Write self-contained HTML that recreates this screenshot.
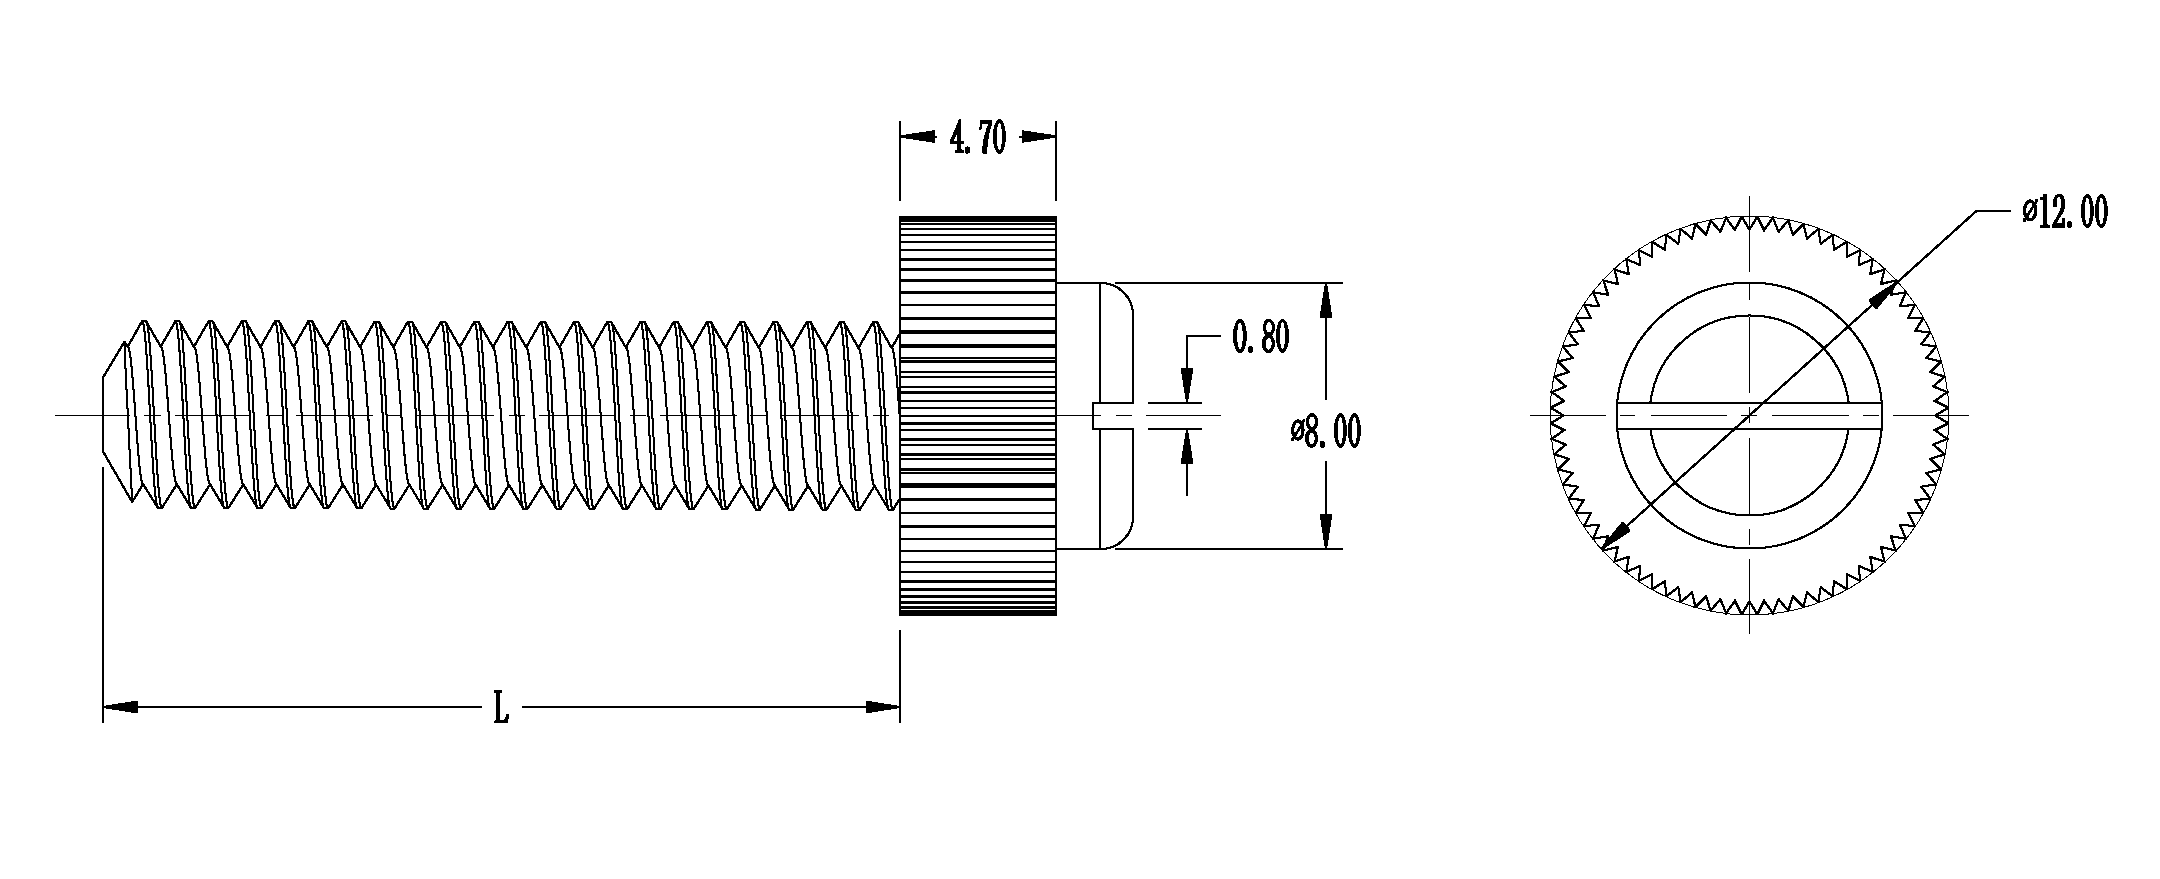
<!DOCTYPE html>
<html><head><meta charset="utf-8"><title>Knurled screw drawing</title>
<style>
html,body{margin:0;padding:0;background:#fff;font-family:"Liberation Sans",sans-serif;}
svg{display:block}
</style></head>
<body>
<svg width="2160" height="879" viewBox="0 0 2160 879" shape-rendering="crispEdges" fill="none" stroke="#000" stroke-linecap="butt" stroke-linejoin="miter">
<rect x="0" y="0" width="2160" height="879" fill="#fff" stroke="none"/>
<g stroke-width="1" transform="translate(-0.5,-0.5)">
<path d="M103,451.5 L103,377.6 L124.4,342 L127.7,346.65 L142.15,321.18 L146.05,321.18 L160.71,346.7 L175.38,321.23 L179.27,321.23 L193.94,346.76 L208.6,321.28 L212.5,321.28 L227.16,346.81 L241.83,321.33 L245.72,321.33 L260.39,346.87 L275.05,321.38 L278.95,321.38 L293.61,346.92 L308.28,321.43 L312.18,321.43 L326.84,346.98 L341.5,321.48 L345.4,321.48 L360.06,347.04 L374.73,321.53 L378.62,321.53 L393.29,347.09 L407.95,321.58 L411.85,321.58 L426.51,347.15 L441.18,321.63 L445.07,321.63 L459.74,347.2 L474.4,321.68 L478.3,321.68 L492.96,347.26 L507.63,321.73 L511.53,321.73 L526.19,347.31 L540.85,321.78 L544.75,321.78 L559.41,347.37 L574.07,321.83 L577.98,321.83 L592.64,347.42 L607.3,321.88 L611.2,321.88 L625.86,347.48 L640.52,321.93 L644.43,321.93 L659.09,347.54 L673.75,321.98 L677.65,321.98 L692.31,347.59 L706.98,322.03 L710.88,322.03 L725.54,347.65 L740.2,322.08 L744.1,322.08 L758.76,347.7 L773.42,322.13 L777.33,322.13 L791.99,347.76 L806.65,322.18 L810.55,322.18 L825.21,347.81 L839.88,322.23 L843.78,322.23 L858.44,347.87 L873.1,322.28 L877,322.28 L891.66,347.92 L900,333.37" />
<path d="M103,451.5 L132.2,502 L143.04,484.07 L158,507.91 L161.9,507.91 L176.86,484.15 L191.22,508 L195.12,508 L210.09,484.24 L224.45,508.09 L228.35,508.09 L243.31,484.32 L257.68,508.18 L261.57,508.18 L276.54,484.41 L290.9,508.27 L294.8,508.27 L309.76,484.5 L324.12,508.37 L328.02,508.37 L342.99,484.58 L357.35,508.46 L361.25,508.46 L376.21,484.67 L390.57,508.55 L394.47,508.55 L409.44,484.75 L423.8,508.64 L427.7,508.64 L442.66,484.84 L457.03,508.73 L460.93,508.73 L475.89,484.93 L490.25,508.82 L494.15,508.82 L509.11,485.01 L523.47,508.91 L527.38,508.91 L542.34,485.1 L556.7,509 L560.6,509 L575.56,485.18 L589.92,509.09 L593.83,509.09 L608.79,485.27 L623.15,509.18 L627.05,509.18 L642.01,485.35 L656.38,509.28 L660.28,509.28 L675.24,485.44 L689.6,509.37 L693.5,509.37 L708.46,485.53 L722.83,509.46 L726.73,509.46 L741.69,485.61 L756.05,509.55 L759.95,509.55 L774.91,485.7 L789.27,509.64 L793.17,509.64 L808.14,485.78 L822.5,509.73 L826.4,509.73 L841.36,485.87 L855.72,509.82 L859.62,509.82 L874.59,485.95 L888.95,509.91 L892.85,509.91 L900,498.51" />
<path d="M142.15,321.18 L142.94,322.33 L143.74,325.75 L144.53,331.35 L145.32,339.01 L146.11,348.52 L146.91,359.66 L147.7,372.15 L148.49,385.69 L149.28,399.93 L150.07,414.54 L150.87,429.14 L151.66,443.39 L152.45,456.92 L153.25,469.41 L154.04,480.55 L154.83,490.07 L155.62,497.72 L156.41,503.33 L157.21,506.75 L158,507.9" />
<path d="M146.05,321.18 L146.84,322.33 L147.63,325.75 L148.43,331.36 L149.22,339.02 L150.01,348.53 L150.8,359.67 L151.6,372.16 L152.39,385.69 L153.18,399.94 L153.97,414.54 L154.77,429.15 L155.56,443.39 L156.35,456.93 L157.14,469.42 L157.94,480.56 L158.73,490.08 L159.52,497.73 L160.31,503.34 L161.11,506.76 L161.9,507.92" />
<path d="M160.71,346.7 L161.52,347.45 L162.33,349.86 L163.14,353.87 L163.94,359.39 L164.75,366.28 L165.56,374.38 L166.37,383.49 L167.17,393.39 L167.98,403.84 L168.79,414.58 L169.59,425.34 L170.4,435.86 L171.21,445.89 L172.02,455.17 L172.83,463.47 L173.63,470.59 L174.44,476.34 L175.25,480.58 L176.06,483.21 L176.86,484.15" />
<path d="M175.38,321.23 L176.17,322.38 L176.96,325.8 L177.75,331.41 L178.54,339.06 L179.34,348.58 L180.13,359.72 L180.92,372.21 L181.72,385.75 L182.51,400 L183.3,414.61 L184.09,429.21 L184.88,443.46 L185.68,457 L186.47,469.49 L187.26,480.64 L188.06,490.15 L188.85,497.81 L189.64,503.42 L190.43,506.84 L191.22,508" />
<path d="M179.27,321.23 L180.07,322.38 L180.86,325.81 L181.65,331.41 L182.44,339.07 L183.24,348.59 L184.03,359.73 L184.82,372.22 L185.61,385.76 L186.41,400.01 L187.2,414.61 L187.99,429.22 L188.78,443.47 L189.58,457.01 L190.37,469.5 L191.16,480.65 L191.95,490.16 L192.75,497.82 L193.54,503.43 L194.33,506.85 L195.12,508.01" />
<path d="M193.94,346.76 L194.75,347.51 L195.55,349.92 L196.36,353.93 L197.17,359.45 L197.97,366.34 L198.78,374.44 L199.59,383.56 L200.4,393.46 L201.21,403.91 L202.01,414.65 L202.82,425.41 L203.63,435.94 L204.44,445.97 L205.24,455.25 L206.05,463.55 L206.86,470.67 L207.66,476.42 L208.47,480.67 L209.28,483.3 L210.09,484.24" />
<path d="M208.6,321.28 L209.39,322.43 L210.19,325.85 L210.98,331.46 L211.77,339.12 L212.56,348.64 L213.36,359.78 L214.15,372.28 L214.94,385.82 L215.73,400.07 L216.53,414.68 L217.32,429.29 L218.11,443.54 L218.9,457.08 L219.69,469.58 L220.49,480.72 L221.28,490.24 L222.07,497.9 L222.86,503.51 L223.66,506.93 L224.45,508.09" />
<path d="M212.5,321.28 L213.29,322.43 L214.09,325.86 L214.88,331.47 L215.67,339.12 L216.46,348.64 L217.25,359.79 L218.05,372.28 L218.84,385.82 L219.63,400.07 L220.42,414.69 L221.22,429.3 L222.01,443.55 L222.8,457.09 L223.59,469.59 L224.39,480.73 L225.18,490.25 L225.97,497.91 L226.76,503.52 L227.56,506.95 L228.35,508.1" />
<path d="M227.16,346.81 L227.97,347.57 L228.78,349.98 L229.59,353.99 L230.39,359.51 L231.2,366.4 L232.01,374.51 L232.82,383.62 L233.62,393.52 L234.43,403.98 L235.24,414.72 L236.05,425.48 L236.85,436.01 L237.66,446.04 L238.47,455.33 L239.28,463.63 L240.08,470.75 L240.89,476.51 L241.7,480.75 L242.5,483.38 L243.31,484.33" />
<path d="M241.83,321.33 L242.62,322.48 L243.41,325.9 L244.2,331.51 L245,339.17 L245.79,348.69 L246.58,359.84 L247.37,372.34 L248.17,385.88 L248.96,400.13 L249.75,414.75 L250.54,429.36 L251.34,443.62 L252.13,457.16 L252.92,469.66 L253.71,480.81 L254.51,490.33 L255.3,497.99 L256.09,503.6 L256.88,507.03 L257.68,508.18" />
<path d="M245.72,321.33 L246.52,322.48 L247.31,325.91 L248.1,331.52 L248.89,339.18 L249.69,348.7 L250.48,359.84 L251.27,372.34 L252.06,385.89 L252.86,400.14 L253.65,414.76 L254.44,429.37 L255.23,443.62 L256.03,457.17 L256.82,469.67 L257.61,480.82 L258.4,490.34 L259.2,498 L259.99,503.61 L260.78,507.04 L261.57,508.19" />
<path d="M260.39,346.87 L261.19,347.62 L262,350.03 L262.81,354.05 L263.62,359.57 L264.43,366.46 L265.23,374.57 L266.04,383.68 L266.85,393.59 L267.66,404.04 L268.46,414.79 L269.27,425.56 L270.08,436.09 L270.88,446.12 L271.69,455.41 L272.5,463.71 L273.31,470.83 L274.12,476.59 L274.92,480.84 L275.73,483.47 L276.54,484.41" />
<path d="M275.05,321.38 L275.84,322.53 L276.63,325.95 L277.43,331.56 L278.22,339.22 L279.01,348.75 L279.81,359.9 L280.6,372.4 L281.39,385.94 L282.18,400.2 L282.98,414.82 L283.77,429.44 L284.56,443.69 L285.35,457.24 L286.15,469.74 L286.94,480.89 L287.73,490.42 L288.52,498.08 L289.32,503.69 L290.11,507.12 L290.9,508.27" />
<path d="M278.95,321.38 L279.74,322.53 L280.53,325.96 L281.33,331.57 L282.12,339.23 L282.91,348.75 L283.7,359.9 L284.5,372.41 L285.29,385.95 L286.08,400.21 L286.88,414.83 L287.67,429.44 L288.46,443.7 L289.25,457.25 L290.05,469.75 L290.84,480.9 L291.63,490.43 L292.42,498.09 L293.22,503.7 L294.01,507.13 L294.8,508.28" />
<path d="M293.61,346.92 L294.42,347.68 L295.23,350.09 L296.04,354.1 L296.84,359.63 L297.65,366.52 L298.46,374.63 L299.27,383.75 L300.07,393.66 L300.88,404.11 L301.69,414.86 L302.5,425.63 L303.3,436.16 L304.11,446.2 L304.92,455.49 L305.73,463.8 L306.53,470.92 L307.34,476.68 L308.15,480.92 L308.96,483.55 L309.76,484.5" />
<path d="M308.28,321.43 L309.07,322.58 L309.86,326 L310.65,331.62 L311.45,339.28 L312.24,348.8 L313.03,359.95 L313.82,372.46 L314.62,386.01 L315.41,400.27 L316.2,414.89 L316.99,429.51 L317.79,443.77 L318.58,457.32 L319.37,469.82 L320.16,480.98 L320.95,490.5 L321.75,498.17 L322.54,503.78 L323.33,507.21 L324.12,508.36" />
<path d="M312.18,321.43 L312.97,322.58 L313.76,326.01 L314.55,331.62 L315.35,339.28 L316.14,348.81 L316.93,359.96 L317.72,372.47 L318.51,386.02 L319.31,400.28 L320.1,414.9 L320.89,429.52 L321.69,443.78 L322.48,457.33 L323.27,469.83 L324.06,480.99 L324.85,490.51 L325.65,498.18 L326.44,503.79 L327.23,507.22 L328.02,508.37" />
<path d="M326.84,346.98 L327.65,347.73 L328.45,350.15 L329.26,354.16 L330.07,359.68 L330.88,366.58 L331.68,374.69 L332.49,383.81 L333.3,393.72 L334.11,404.18 L334.91,414.93 L335.72,425.7 L336.53,436.24 L337.34,446.28 L338.14,455.57 L338.95,463.88 L339.76,471 L340.56,476.76 L341.37,481.01 L342.18,483.64 L342.99,484.58" />
<path d="M341.5,321.48 L342.29,322.63 L343.09,326.05 L343.88,331.67 L344.67,339.33 L345.46,348.86 L346.26,360.01 L347.05,372.52 L347.84,386.07 L348.63,400.34 L349.43,414.96 L350.22,429.58 L351.01,443.85 L351.8,457.4 L352.6,469.91 L353.39,481.06 L354.18,490.59 L354.97,498.26 L355.77,503.87 L356.56,507.3 L357.35,508.45" />
<path d="M345.4,321.48 L346.19,322.64 L346.99,326.06 L347.78,331.67 L348.57,339.34 L349.36,348.87 L350.16,360.02 L350.95,372.53 L351.74,386.08 L352.53,400.34 L353.33,414.97 L354.12,429.59 L354.91,443.86 L355.7,457.41 L356.5,469.92 L357.29,481.07 L358.08,490.6 L358.87,498.27 L359.67,503.88 L360.46,507.31 L361.25,508.46" />
<path d="M360.06,347.04 L360.87,347.79 L361.68,350.2 L362.49,354.22 L363.29,359.74 L364.1,366.64 L364.91,374.75 L365.72,383.88 L366.52,393.79 L367.33,404.25 L368.14,415 L368.95,425.78 L369.75,436.32 L370.56,446.35 L371.37,455.65 L372.18,463.96 L372.98,471.08 L373.79,476.84 L374.6,481.09 L375.41,483.73 L376.21,484.67" />
<path d="M374.73,321.53 L375.52,322.68 L376.31,326.11 L377.1,331.72 L377.9,339.39 L378.69,348.92 L379.48,360.07 L380.27,372.58 L381.06,386.14 L381.86,400.4 L382.65,415.03 L383.44,429.66 L384.24,443.92 L385.03,457.48 L385.82,469.99 L386.61,481.15 L387.4,490.68 L388.2,498.35 L388.99,503.96 L389.78,507.39 L390.57,508.54" />
<path d="M378.62,321.53 L379.42,322.69 L380.21,326.11 L381,331.73 L381.8,339.39 L382.59,348.92 L383.38,360.08 L384.17,372.59 L384.96,386.14 L385.76,400.41 L386.55,415.04 L387.34,429.67 L388.13,443.93 L388.93,457.49 L389.72,470 L390.51,481.16 L391.3,490.69 L392.1,498.36 L392.89,503.97 L393.68,507.4 L394.47,508.55" />
<path d="M393.29,347.09 L394.1,347.84 L394.9,350.26 L395.71,354.28 L396.52,359.8 L397.33,366.7 L398.13,374.81 L398.94,383.94 L399.75,393.85 L400.56,404.32 L401.36,415.07 L402.17,425.85 L402.98,436.39 L403.79,446.43 L404.59,455.73 L405.4,464.04 L406.21,471.17 L407.01,476.93 L407.82,481.18 L408.63,483.81 L409.44,484.75" />
<path d="M407.95,321.58 L408.74,322.73 L409.53,326.16 L410.33,331.77 L411.12,339.44 L411.91,348.97 L412.7,360.13 L413.5,372.64 L414.29,386.2 L415.08,400.47 L415.88,415.1 L416.67,429.73 L417.46,444 L418.25,457.56 L419.05,470.07 L419.84,481.23 L420.63,490.76 L421.42,498.43 L422.22,504.05 L423.01,507.48 L423.8,508.63" />
<path d="M411.85,321.58 L412.64,322.74 L413.43,326.16 L414.23,331.78 L415.02,339.45 L415.81,348.98 L416.6,360.14 L417.4,372.65 L418.19,386.21 L418.98,400.48 L419.77,415.11 L420.57,429.74 L421.36,444.01 L422.15,457.57 L422.94,470.08 L423.74,481.24 L424.53,490.77 L425.32,498.44 L426.12,504.06 L426.91,507.49 L427.7,508.64" />
<path d="M426.51,347.15 L427.32,347.9 L428.13,350.31 L428.94,354.33 L429.74,359.86 L430.55,366.76 L431.36,374.88 L432.17,384 L432.97,393.92 L433.78,404.38 L434.59,415.14 L435.39,425.92 L436.2,436.47 L437.01,446.51 L437.82,455.8 L438.62,464.12 L439.43,471.25 L440.24,477.01 L441.05,481.26 L441.86,483.9 L442.66,484.84" />
<path d="M441.18,321.63 L441.97,322.78 L442.76,326.21 L443.55,331.82 L444.35,339.49 L445.14,349.03 L445.93,360.19 L446.72,372.7 L447.52,386.26 L448.31,400.54 L449.1,415.17 L449.89,429.8 L450.69,444.08 L451.48,457.64 L452.27,470.15 L453.06,481.32 L453.86,490.85 L454.65,498.52 L455.44,504.14 L456.23,507.57 L457.03,508.72" />
<path d="M445.07,321.63 L445.87,322.79 L446.66,326.21 L447.45,331.83 L448.25,339.5 L449.04,349.03 L449.83,360.2 L450.62,372.71 L451.42,386.27 L452.21,400.55 L453,415.18 L453.79,429.81 L454.58,444.09 L455.38,457.65 L456.17,470.16 L456.96,481.33 L457.75,490.86 L458.55,498.53 L459.34,504.15 L460.13,507.58 L460.93,508.73" />
<path d="M459.74,347.2 L460.55,347.96 L461.35,350.37 L462.16,354.39 L462.97,359.92 L463.78,366.82 L464.58,374.94 L465.39,384.07 L466.2,393.99 L467.01,404.45 L467.81,415.21 L468.62,426 L469.43,436.54 L470.24,446.59 L471.04,455.88 L471.85,464.2 L472.66,471.33 L473.47,477.1 L474.27,481.35 L475.08,483.98 L475.89,484.93" />
<path d="M474.4,321.68 L475.19,322.83 L475.99,326.26 L476.78,331.88 L477.57,339.55 L478.36,349.08 L479.16,360.25 L479.95,372.77 L480.74,386.33 L481.53,400.6 L482.33,415.24 L483.12,429.88 L483.91,444.15 L484.7,457.72 L485.5,470.24 L486.29,481.4 L487.08,490.94 L487.87,498.61 L488.67,504.23 L489.46,507.66 L490.25,508.81" />
<path d="M478.3,321.68 L479.09,322.84 L479.88,326.26 L480.68,331.88 L481.47,339.55 L482.26,349.09 L483.06,360.25 L483.85,372.77 L484.64,386.34 L485.43,400.61 L486.23,415.25 L487.02,429.89 L487.81,444.16 L488.6,457.73 L489.39,470.25 L490.19,481.41 L490.98,490.95 L491.77,498.62 L492.56,504.24 L493.36,507.67 L494.15,508.83" />
<path d="M492.96,347.26 L493.77,348.01 L494.58,350.43 L495.39,354.45 L496.19,359.98 L497,366.88 L497.81,375 L498.62,384.13 L499.42,394.05 L500.23,404.52 L501.04,415.28 L501.85,426.07 L502.65,436.62 L503.46,446.66 L504.27,455.96 L505.08,464.28 L505.88,471.41 L506.69,477.18 L507.5,481.43 L508.31,484.07 L509.11,485.01" />
<path d="M507.63,321.73 L508.42,322.88 L509.21,326.31 L510,331.93 L510.8,339.6 L511.59,349.14 L512.38,360.31 L513.17,372.83 L513.97,386.39 L514.76,400.67 L515.55,415.31 L516.34,429.95 L517.13,444.23 L517.93,457.8 L518.72,470.32 L519.51,481.49 L520.3,491.03 L521.1,498.7 L521.89,504.32 L522.68,507.75 L523.47,508.91" />
<path d="M511.53,321.73 L512.32,322.89 L513.11,326.32 L513.9,331.94 L514.7,339.61 L515.49,349.15 L516.28,360.31 L517.07,372.83 L517.87,386.4 L518.66,400.68 L519.45,415.32 L520.24,429.96 L521.03,444.24 L521.83,457.81 L522.62,470.33 L523.41,481.5 L524.21,491.04 L525,498.71 L525.79,504.33 L526.58,507.76 L527.38,508.92" />
<path d="M526.19,347.31 L527,348.07 L527.8,350.48 L528.61,354.5 L529.42,360.03 L530.22,366.94 L531.03,375.06 L531.84,384.19 L532.65,394.12 L533.45,404.59 L534.26,415.35 L535.07,426.14 L535.88,436.69 L536.68,446.74 L537.49,456.04 L538.3,464.36 L539.11,471.5 L539.91,477.26 L540.72,481.52 L541.53,484.15 L542.34,485.1" />
<path d="M540.85,321.78 L541.64,322.93 L542.44,326.36 L543.23,331.98 L544.02,339.66 L544.81,349.2 L545.61,360.36 L546.4,372.89 L547.19,386.46 L547.98,400.74 L548.78,415.38 L549.57,430.03 L550.36,444.31 L551.15,457.88 L551.95,470.4 L552.74,481.57 L553.53,491.11 L554.32,498.79 L555.12,504.41 L555.91,507.84 L556.7,509" />
<path d="M544.75,321.78 L545.54,322.94 L546.34,326.37 L547.13,331.99 L547.92,339.66 L548.71,349.2 L549.51,360.37 L550.3,372.89 L551.09,386.46 L551.88,400.75 L552.68,415.39 L553.47,430.03 L554.26,444.32 L555.05,457.89 L555.85,470.41 L556.64,481.58 L557.43,491.12 L558.22,498.8 L559.02,504.42 L559.81,507.85 L560.6,509.01" />
<path d="M559.41,347.37 L560.22,348.12 L561.03,350.54 L561.84,354.56 L562.64,360.09 L563.45,367 L564.26,375.12 L565.07,384.26 L565.87,394.18 L566.68,404.66 L567.49,415.42 L568.29,426.21 L569.1,436.77 L569.91,446.82 L570.72,456.12 L571.52,464.45 L572.33,471.58 L573.14,477.35 L573.95,481.6 L574.75,484.24 L575.56,485.18" />
<path d="M574.07,321.83 L574.87,322.98 L575.66,326.41 L576.45,332.03 L577.24,339.71 L578.04,349.25 L578.83,360.42 L579.62,372.95 L580.41,386.52 L581.21,400.81 L582,415.45 L582.79,430.1 L583.58,444.38 L584.38,457.96 L585.17,470.49 L585.96,481.66 L586.75,491.2 L587.55,498.88 L588.34,504.5 L589.13,507.93 L589.92,509.09" />
<path d="M577.98,321.83 L578.77,322.99 L579.56,326.42 L580.35,332.04 L581.14,339.72 L581.94,349.26 L582.73,360.43 L583.52,372.96 L584.32,386.53 L585.11,400.81 L585.9,415.46 L586.69,430.11 L587.49,444.39 L588.28,457.97 L589.07,470.49 L589.86,481.67 L590.66,491.21 L591.45,498.89 L592.24,504.51 L593.03,507.94 L593.83,509.1" />
<path d="M592.64,347.42 L593.44,348.18 L594.25,350.6 L595.06,354.62 L595.87,360.15 L596.67,367.06 L597.48,375.18 L598.29,384.32 L599.1,394.25 L599.9,404.72 L600.71,415.49 L601.52,426.29 L602.33,436.84 L603.13,446.9 L603.94,456.2 L604.75,464.53 L605.56,471.66 L606.36,477.43 L607.17,481.69 L607.98,484.32 L608.79,485.27" />
<path d="M607.3,321.88 L608.09,323.03 L608.88,326.46 L609.68,332.09 L610.47,339.76 L611.26,349.31 L612.05,360.48 L612.85,373.01 L613.64,386.59 L614.43,400.87 L615.22,415.52 L616.02,430.17 L616.81,444.46 L617.6,458.04 L618.39,470.57 L619.19,481.74 L619.98,491.29 L620.77,498.97 L621.56,504.59 L622.36,508.02 L623.15,509.18" />
<path d="M611.2,321.88 L611.99,323.04 L612.79,326.47 L613.58,332.09 L614.37,339.77 L615.16,349.31 L615.96,360.49 L616.75,373.02 L617.54,386.59 L618.33,400.88 L619.12,415.53 L619.92,430.18 L620.71,444.47 L621.5,458.05 L622.3,470.58 L623.09,481.75 L623.88,491.3 L624.67,498.98 L625.47,504.6 L626.26,508.03 L627.05,509.19" />
<path d="M625.86,347.48 L626.67,348.24 L627.48,350.65 L628.28,354.68 L629.09,360.21 L629.9,367.12 L630.71,375.25 L631.51,384.38 L632.32,394.31 L633.13,404.79 L633.94,415.56 L634.74,426.36 L635.55,436.92 L636.36,446.97 L637.17,456.28 L637.97,464.61 L638.78,471.75 L639.59,477.52 L640.4,481.77 L641.2,484.41 L642.01,485.36" />
<path d="M640.52,321.93 L641.32,323.08 L642.11,326.51 L642.9,332.14 L643.69,339.82 L644.49,349.36 L645.28,360.54 L646.07,373.07 L646.87,386.65 L647.66,400.94 L648.45,415.59 L649.24,430.25 L650.03,444.54 L650.83,458.12 L651.62,470.65 L652.41,481.83 L653.21,491.37 L654,499.06 L654.79,504.68 L655.58,508.11 L656.38,509.27" />
<path d="M644.43,321.93 L645.22,323.09 L646.01,326.52 L646.8,332.14 L647.6,339.82 L648.39,349.37 L649.18,360.55 L649.97,373.08 L650.77,386.66 L651.56,400.95 L652.35,415.6 L653.14,430.25 L653.94,444.55 L654.73,458.13 L655.52,470.66 L656.31,481.84 L657.11,491.38 L657.9,499.07 L658.69,504.69 L659.48,508.13 L660.28,509.28" />
<path d="M659.09,347.54 L659.89,348.29 L660.7,350.71 L661.51,354.73 L662.32,360.27 L663.12,367.18 L663.93,375.31 L664.74,384.45 L665.55,394.38 L666.36,404.86 L667.16,415.63 L667.97,426.43 L668.78,436.99 L669.58,447.05 L670.39,456.36 L671.2,464.69 L672.01,471.83 L672.81,477.6 L673.62,481.86 L674.43,484.5 L675.24,485.44" />
<path d="M673.75,321.98 L674.54,323.13 L675.34,326.56 L676.13,332.19 L676.92,339.87 L677.71,349.42 L678.5,360.6 L679.3,373.13 L680.09,386.71 L680.88,401.01 L681.67,415.66 L682.47,430.32 L683.26,444.62 L684.05,458.2 L684.84,470.73 L685.64,481.91 L686.43,491.46 L687.22,499.14 L688.01,504.77 L688.81,508.21 L689.6,509.36" />
<path d="M677.65,321.98 L678.44,323.14 L679.24,326.57 L680.03,332.2 L680.82,339.88 L681.61,349.43 L682.41,360.6 L683.2,373.14 L683.99,386.72 L684.78,401.02 L685.58,415.67 L686.37,430.33 L687.16,444.62 L687.95,458.21 L688.75,470.74 L689.54,481.92 L690.33,491.47 L691.12,499.15 L691.91,504.78 L692.71,508.22 L693.5,509.37" />
<path d="M692.31,347.59 L693.12,348.35 L693.93,350.76 L694.74,354.79 L695.54,360.33 L696.35,367.24 L697.16,375.37 L697.96,384.51 L698.77,394.45 L699.58,404.93 L700.39,415.7 L701.19,426.51 L702,437.07 L702.81,447.13 L703.62,456.44 L704.42,464.77 L705.23,471.91 L706.04,477.68 L706.85,481.94 L707.65,484.58 L708.46,485.53" />
<path d="M706.98,322.03 L707.77,323.18 L708.56,326.62 L709.35,332.24 L710.14,339.93 L710.94,349.48 L711.73,360.66 L712.52,373.19 L713.32,386.78 L714.11,401.08 L714.9,415.73 L715.69,430.39 L716.49,444.69 L717.28,458.28 L718.07,470.82 L718.86,482 L719.66,491.55 L720.45,499.23 L721.24,504.86 L722.03,508.3 L722.83,509.45" />
<path d="M710.88,322.03 L711.67,323.19 L712.46,326.62 L713.25,332.25 L714.05,339.93 L714.84,349.48 L715.63,360.66 L716.42,373.2 L717.22,386.79 L718.01,401.08 L718.8,415.74 L719.59,430.4 L720.39,444.7 L721.18,458.29 L721.97,470.83 L722.76,482.01 L723.56,491.56 L724.35,499.24 L725.14,504.87 L725.93,508.31 L726.73,509.46" />
<path d="M725.54,347.65 L726.35,348.4 L727.15,350.82 L727.96,354.85 L728.77,360.38 L729.58,367.3 L730.38,375.43 L731.19,384.58 L732,394.51 L732.81,405 L733.61,415.77 L734.42,426.58 L735.23,437.14 L736.03,447.21 L736.84,456.52 L737.65,464.85 L738.46,471.99 L739.26,477.77 L740.07,482.03 L740.88,484.67 L741.69,485.61" />
<path d="M740.2,322.08 L740.99,323.23 L741.79,326.67 L742.58,332.29 L743.37,339.98 L744.16,349.53 L744.96,360.71 L745.75,373.25 L746.54,386.84 L747.33,401.14 L748.12,415.81 L748.92,430.47 L749.71,444.77 L750.5,458.36 L751.29,470.9 L752.09,482.08 L752.88,491.64 L753.67,499.32 L754.46,504.95 L755.26,508.39 L756.05,509.54" />
<path d="M744.1,322.08 L744.89,323.24 L745.69,326.67 L746.48,332.3 L747.27,339.99 L748.06,349.54 L748.86,360.72 L749.65,373.26 L750.44,386.85 L751.23,401.15 L752.03,415.81 L752.82,430.48 L753.61,444.78 L754.4,458.37 L755.2,470.91 L755.99,482.09 L756.78,491.65 L757.57,499.33 L758.37,504.96 L759.16,508.4 L759.95,509.55" />
<path d="M758.76,347.7 L759.57,348.46 L760.38,350.88 L761.19,354.9 L761.99,360.44 L762.8,367.36 L763.61,375.49 L764.41,384.64 L765.22,394.58 L766.03,405.07 L766.84,415.85 L767.64,426.65 L768.45,437.22 L769.26,447.28 L770.07,456.6 L770.88,464.93 L771.68,472.08 L772.49,477.85 L773.3,482.11 L774.1,484.75 L774.91,485.7" />
<path d="M773.42,322.13 L774.22,323.28 L775.01,326.72 L775.8,332.35 L776.59,340.03 L777.39,349.59 L778.18,360.77 L778.97,373.32 L779.76,386.91 L780.56,401.21 L781.35,415.88 L782.14,430.54 L782.93,444.85 L783.73,458.44 L784.52,470.98 L785.31,482.17 L786.1,491.72 L786.9,499.41 L787.69,505.04 L788.48,508.48 L789.27,509.63" />
<path d="M777.33,322.13 L778.12,323.29 L778.91,326.72 L779.7,332.35 L780.5,340.04 L781.29,349.59 L782.08,360.78 L782.87,373.32 L783.66,386.91 L784.46,401.22 L785.25,415.88 L786.04,430.55 L786.84,444.85 L787.63,458.45 L788.42,470.99 L789.21,482.18 L790,491.73 L790.8,499.42 L791.59,505.05 L792.38,508.49 L793.17,509.64" />
<path d="M791.99,347.76 L792.79,348.51 L793.6,350.93 L794.41,354.96 L795.22,360.5 L796.02,367.42 L796.83,375.56 L797.64,384.7 L798.45,394.64 L799.25,405.13 L800.06,415.92 L800.87,426.72 L801.68,437.29 L802.48,447.36 L803.29,456.68 L804.1,465.01 L804.91,472.16 L805.71,477.94 L806.52,482.2 L807.33,484.84 L808.14,485.78" />
<path d="M806.65,322.18 L807.44,323.33 L808.24,326.77 L809.03,332.4 L809.82,340.09 L810.61,349.64 L811.4,360.83 L812.2,373.38 L812.99,386.97 L813.78,401.28 L814.58,415.95 L815.37,430.61 L816.16,444.92 L816.95,458.52 L817.75,471.06 L818.54,482.25 L819.33,491.81 L820.12,499.5 L820.91,505.13 L821.71,508.57 L822.5,509.73" />
<path d="M810.55,322.18 L811.34,323.34 L812.14,326.77 L812.93,332.41 L813.72,340.09 L814.51,349.65 L815.31,360.84 L816.1,373.38 L816.89,386.98 L817.68,401.29 L818.48,415.95 L819.27,430.62 L820.06,444.93 L820.85,458.53 L821.65,471.07 L822.44,482.26 L823.23,491.82 L824.02,499.51 L824.82,505.14 L825.61,508.58 L826.4,509.74" />
<path d="M825.21,347.81 L826.02,348.57 L826.83,350.99 L827.63,355.02 L828.44,360.56 L829.25,367.48 L830.06,375.62 L830.87,384.77 L831.67,394.71 L832.48,405.2 L833.29,415.99 L834.09,426.8 L834.9,437.37 L835.71,447.44 L836.52,456.76 L837.32,465.1 L838.13,472.24 L838.94,478.02 L839.75,482.28 L840.55,484.92 L841.36,485.87" />
<path d="M839.88,322.23 L840.67,323.38 L841.46,326.82 L842.25,332.45 L843.04,340.14 L843.84,349.7 L844.63,360.89 L845.42,373.44 L846.21,387.03 L847.01,401.35 L847.8,416.02 L848.59,430.69 L849.38,445 L850.18,458.6 L850.97,471.15 L851.76,482.34 L852.55,491.9 L853.35,499.59 L854.14,505.22 L854.93,508.66 L855.72,509.82" />
<path d="M843.78,322.23 L844.57,323.39 L845.36,326.83 L846.15,332.46 L846.95,340.15 L847.74,349.71 L848.53,360.9 L849.32,373.45 L850.12,387.04 L850.91,401.35 L851.7,416.03 L852.49,430.7 L853.29,445.01 L854.08,458.61 L854.87,471.16 L855.66,482.35 L856.46,491.91 L857.25,499.6 L858.04,505.23 L858.83,508.67 L859.62,509.83" />
<path d="M858.44,347.87 L859.25,348.63 L860.05,351.05 L860.86,355.08 L861.67,360.62 L862.47,367.54 L863.28,375.68 L864.09,384.83 L864.9,394.78 L865.7,405.27 L866.51,416.06 L867.32,426.87 L868.13,437.44 L868.93,447.52 L869.74,456.84 L870.55,465.18 L871.36,472.33 L872.16,478.11 L872.97,482.37 L873.78,485.01 L874.59,485.96" />
<path d="M873.1,322.28 L873.89,323.43 L874.69,326.87 L875.48,332.5 L876.27,340.2 L877.06,349.76 L877.86,360.95 L878.65,373.5 L879.44,387.1 L880.23,401.41 L881.03,416.09 L881.82,430.76 L882.61,445.08 L883.4,458.68 L884.2,471.23 L884.99,482.42 L885.78,491.98 L886.57,499.68 L887.37,505.31 L888.16,508.75 L888.95,509.91" />
<path d="M877,322.28 L877.79,323.44 L878.59,326.88 L879.38,332.51 L880.17,340.2 L880.96,349.76 L881.76,360.96 L882.55,373.51 L883.34,387.11 L884.13,401.42 L884.93,416.1 L885.72,430.77 L886.51,445.09 L887.3,458.69 L888.1,471.24 L888.89,482.43 L889.68,491.99 L890.47,499.69 L891.27,505.32 L892.06,508.76 L892.85,509.92" />
<path d="M891.66,347.92 L892.47,348.68 L893.28,351.1 L894.09,355.13 L894.89,360.68 L895.7,367.6 L896.51,375.74 L897.32,384.89 L898.12,394.84 L898.93,405.34 L899.74,416.13 L900,419.64" />
<path d="M127.69,346.65 L128.45,347.4 L129.22,349.81 L129.99,353.82 L130.76,359.33 L131.52,366.22 L132.29,374.32 L133.06,383.43 L133.83,393.33 L134.59,403.77 L135.36,414.5 L136.13,425.27 L136.9,435.79 L137.66,445.81 L138.43,455.09 L139.2,463.39 L139.97,470.5 L140.73,476.25 L141.5,480.5 L142.27,483.12 L143.04,484.07" />
<path d="M124.4,342 L126,380 L127.9,415.5 L129.8,455 L132.2,502" />
<path d="M1057,283.0 L1101.0,283.0 A32.0,32.0 0 0 1 1133.0,315.0 L1133.0,403.0"/>
<path d="M1057,549.0 L1101.0,549.0 A32.0,32.0 0 0 0 1133.0,517.0 L1133.0,429.0"/>
<path d="M1100,283 L1100,403" />
<path d="M1100,429 L1100,549" />
<path d="M1133,403 L1093,403 L1093,429 L1133,429" />
<circle cx="1749.5" cy="415.5" r="133"/>
<path d="M1650.28,403 A100,100 0 0 1 1848.72,403"/>
<path d="M1650.42,429 A100,100 0 0 0 1848.58,429"/>
<path d="M1749.5,229.5 L1741.69,216.65 L1734.91,230.07 L1726.11,217.88 L1720.4,231.79 L1710.68,220.32 L1706.08,234.64 L1695.48,223.97 L1692.02,238.6 L1680.62,228.8 L1678.32,243.66 L1666.19,234.78 L1665.06,249.77 L1652.26,241.87 L1652.32,256.91 L1638.94,250.04 L1640.17,265.02 L1626.3,259.22 L1628.7,274.06 L1614.42,269.37 L1617.98,283.98 L1603.37,280.42 L1608.06,294.7 L1593.22,292.3 L1599.02,306.17 L1584.04,304.94 L1590.91,318.32 L1575.87,318.26 L1583.77,331.06 L1568.78,332.19 L1577.66,344.32 L1562.8,346.62 L1572.6,358.02 L1557.97,361.48 L1568.64,372.08 L1554.32,376.68 L1565.79,386.4 L1551.88,392.11 L1564.07,400.91 L1550.65,407.69 L1563.5,415.5 L1550.65,423.31 L1564.07,430.09 L1551.88,438.89 L1565.79,444.6 L1554.32,454.32 L1568.64,458.92 L1557.97,469.52 L1572.6,472.98 L1562.8,484.38 L1577.66,486.68 L1568.78,498.81 L1583.77,499.94 L1575.87,512.74 L1590.91,512.68 L1584.04,526.06 L1599.02,524.83 L1593.22,538.7 L1608.06,536.3 L1603.37,550.58 L1617.98,547.02 L1614.42,561.63 L1628.7,556.94 L1626.3,571.78 L1640.17,565.98 L1638.94,580.96 L1652.32,574.09 L1652.26,589.13 L1665.06,581.23 L1666.19,596.22 L1678.32,587.34 L1680.62,602.2 L1692.02,592.4 L1695.48,607.03 L1706.08,596.36 L1710.68,610.68 L1720.4,599.21 L1726.11,613.12 L1734.91,600.93 L1741.69,614.35 L1749.5,601.5 L1757.31,614.35 L1764.09,600.93 L1772.89,613.12 L1778.6,599.21 L1788.32,610.68 L1792.92,596.36 L1803.52,607.03 L1806.98,592.4 L1818.38,602.2 L1820.68,587.34 L1832.81,596.22 L1833.94,581.23 L1846.74,589.13 L1846.68,574.09 L1860.06,580.96 L1858.83,565.98 L1872.7,571.78 L1870.3,556.94 L1884.58,561.63 L1881.02,547.02 L1895.63,550.58 L1890.94,536.3 L1905.78,538.7 L1899.98,524.83 L1914.96,526.06 L1908.09,512.68 L1923.13,512.74 L1915.23,499.94 L1930.22,498.81 L1921.34,486.68 L1936.2,484.38 L1926.4,472.98 L1941.03,469.52 L1930.36,458.92 L1944.68,454.32 L1933.21,444.6 L1947.12,438.89 L1934.93,430.09 L1948.35,423.31 L1935.5,415.5 L1948.35,407.69 L1934.93,400.91 L1947.12,392.11 L1933.21,386.4 L1944.68,376.68 L1930.36,372.08 L1941.03,361.48 L1926.4,358.02 L1936.2,346.62 L1921.34,344.32 L1930.22,332.19 L1915.23,331.06 L1923.13,318.26 L1908.09,318.32 L1914.96,304.94 L1899.98,306.17 L1905.78,292.3 L1890.94,294.7 L1895.63,280.42 L1881.02,283.98 L1884.58,269.37 L1870.3,274.06 L1872.7,259.22 L1858.83,265.02 L1860.06,250.04 L1846.68,256.91 L1846.74,241.87 L1833.94,249.77 L1832.81,234.78 L1820.68,243.66 L1818.38,228.8 L1806.98,238.6 L1803.52,223.97 L1792.92,234.64 L1788.32,220.32 L1778.6,231.79 L1772.89,217.88 L1764.09,230.07 L1757.31,216.65 Z" stroke-linejoin="miter"/>
<path d="M1617.14,403 L1881.86,403" />
<path d="M1617.14,429 L1881.86,429" />
<path d="M900,121 L900,200" />
<path d="M1056,121 L1056,200" />
<path d="M900,136.5 L936,136.5" />
<path d="M1019.5,136.5 L1056,136.5" />
<path d="M900,136.5 L934,141.7 L934,131.3 Z" fill="#000"/>
<path d="M1056.5,136.5 L1022.5,131.3 L1022.5,141.7 Z" fill="#000"/>
<path d="M103,467 L103,722.4" />
<path d="M900,630 L900,722" />
<path d="M103,707 L481.6,707" />
<path d="M522,707 L900,707" />
<path d="M103,707 L136.5,712.2 L136.5,701.8 Z" fill="#000"/>
<path d="M900,707 L866.5,701.8 L866.5,712.2 Z" fill="#000"/>
<path d="M1115,283 L1342,283" />
<path d="M1115.5,549 L1342,549" />
<path d="M1326,283 L1326,399.6" />
<path d="M1326,461 L1326,549" />
<path d="M1326,283 L1320.8,316.5 L1331.2,316.5 Z" fill="#000"/>
<path d="M1326,549 L1331.2,515 L1320.8,515 Z" fill="#000"/>
<path d="M1148,403 L1201,403" />
<path d="M1148,429 L1201,429" />
<path d="M1220.5,336 L1187,336 L1187,402" />
<path d="M1187,402 L1192.2,368.5 L1181.8,368.5 Z" fill="#000"/>
<path d="M1187,430 L1187,495.5" />
<path d="M1187,430 L1181.8,462.5 L1192.2,462.5 Z" fill="#000"/>
<path d="M1601.31,549.06 L1976.4,211 L2010,211" />
<path d="M1897.69,281.94 L1869.33,300.5 L1876.29,308.23 Z" fill="#000"/>
<path d="M1601.31,549.06 L1629.67,530.5 L1622.71,522.77 Z" fill="#000"/>
</g>
<g stroke-width="1" transform="translate(0.5,-0.5)">
<path d="M103,451.5 L103,377.6 L124.4,342 L127.7,346.65 L142.15,321.18 L146.05,321.18 L160.71,346.7 L175.38,321.23 L179.27,321.23 L193.94,346.76 L208.6,321.28 L212.5,321.28 L227.16,346.81 L241.83,321.33 L245.72,321.33 L260.39,346.87 L275.05,321.38 L278.95,321.38 L293.61,346.92 L308.28,321.43 L312.18,321.43 L326.84,346.98 L341.5,321.48 L345.4,321.48 L360.06,347.04 L374.73,321.53 L378.62,321.53 L393.29,347.09 L407.95,321.58 L411.85,321.58 L426.51,347.15 L441.18,321.63 L445.07,321.63 L459.74,347.2 L474.4,321.68 L478.3,321.68 L492.96,347.26 L507.63,321.73 L511.53,321.73 L526.19,347.31 L540.85,321.78 L544.75,321.78 L559.41,347.37 L574.07,321.83 L577.98,321.83 L592.64,347.42 L607.3,321.88 L611.2,321.88 L625.86,347.48 L640.52,321.93 L644.43,321.93 L659.09,347.54 L673.75,321.98 L677.65,321.98 L692.31,347.59 L706.98,322.03 L710.88,322.03 L725.54,347.65 L740.2,322.08 L744.1,322.08 L758.76,347.7 L773.42,322.13 L777.33,322.13 L791.99,347.76 L806.65,322.18 L810.55,322.18 L825.21,347.81 L839.88,322.23 L843.78,322.23 L858.44,347.87 L873.1,322.28 L877,322.28 L891.66,347.92 L900,333.37" />
<path d="M103,451.5 L132.2,502 L143.04,484.07 L158,507.91 L161.9,507.91 L176.86,484.15 L191.22,508 L195.12,508 L210.09,484.24 L224.45,508.09 L228.35,508.09 L243.31,484.32 L257.68,508.18 L261.57,508.18 L276.54,484.41 L290.9,508.27 L294.8,508.27 L309.76,484.5 L324.12,508.37 L328.02,508.37 L342.99,484.58 L357.35,508.46 L361.25,508.46 L376.21,484.67 L390.57,508.55 L394.47,508.55 L409.44,484.75 L423.8,508.64 L427.7,508.64 L442.66,484.84 L457.03,508.73 L460.93,508.73 L475.89,484.93 L490.25,508.82 L494.15,508.82 L509.11,485.01 L523.47,508.91 L527.38,508.91 L542.34,485.1 L556.7,509 L560.6,509 L575.56,485.18 L589.92,509.09 L593.83,509.09 L608.79,485.27 L623.15,509.18 L627.05,509.18 L642.01,485.35 L656.38,509.28 L660.28,509.28 L675.24,485.44 L689.6,509.37 L693.5,509.37 L708.46,485.53 L722.83,509.46 L726.73,509.46 L741.69,485.61 L756.05,509.55 L759.95,509.55 L774.91,485.7 L789.27,509.64 L793.17,509.64 L808.14,485.78 L822.5,509.73 L826.4,509.73 L841.36,485.87 L855.72,509.82 L859.62,509.82 L874.59,485.95 L888.95,509.91 L892.85,509.91 L900,498.51" />
<path d="M142.15,321.18 L142.94,322.33 L143.74,325.75 L144.53,331.35 L145.32,339.01 L146.11,348.52 L146.91,359.66 L147.7,372.15 L148.49,385.69 L149.28,399.93 L150.07,414.54 L150.87,429.14 L151.66,443.39 L152.45,456.92 L153.25,469.41 L154.04,480.55 L154.83,490.07 L155.62,497.72 L156.41,503.33 L157.21,506.75 L158,507.9" />
<path d="M146.05,321.18 L146.84,322.33 L147.63,325.75 L148.43,331.36 L149.22,339.02 L150.01,348.53 L150.8,359.67 L151.6,372.16 L152.39,385.69 L153.18,399.94 L153.97,414.54 L154.77,429.15 L155.56,443.39 L156.35,456.93 L157.14,469.42 L157.94,480.56 L158.73,490.08 L159.52,497.73 L160.31,503.34 L161.11,506.76 L161.9,507.92" />
<path d="M160.71,346.7 L161.52,347.45 L162.33,349.86 L163.14,353.87 L163.94,359.39 L164.75,366.28 L165.56,374.38 L166.37,383.49 L167.17,393.39 L167.98,403.84 L168.79,414.58 L169.59,425.34 L170.4,435.86 L171.21,445.89 L172.02,455.17 L172.83,463.47 L173.63,470.59 L174.44,476.34 L175.25,480.58 L176.06,483.21 L176.86,484.15" />
<path d="M175.38,321.23 L176.17,322.38 L176.96,325.8 L177.75,331.41 L178.54,339.06 L179.34,348.58 L180.13,359.72 L180.92,372.21 L181.72,385.75 L182.51,400 L183.3,414.61 L184.09,429.21 L184.88,443.46 L185.68,457 L186.47,469.49 L187.26,480.64 L188.06,490.15 L188.85,497.81 L189.64,503.42 L190.43,506.84 L191.22,508" />
<path d="M179.27,321.23 L180.07,322.38 L180.86,325.81 L181.65,331.41 L182.44,339.07 L183.24,348.59 L184.03,359.73 L184.82,372.22 L185.61,385.76 L186.41,400.01 L187.2,414.61 L187.99,429.22 L188.78,443.47 L189.58,457.01 L190.37,469.5 L191.16,480.65 L191.95,490.16 L192.75,497.82 L193.54,503.43 L194.33,506.85 L195.12,508.01" />
<path d="M193.94,346.76 L194.75,347.51 L195.55,349.92 L196.36,353.93 L197.17,359.45 L197.97,366.34 L198.78,374.44 L199.59,383.56 L200.4,393.46 L201.21,403.91 L202.01,414.65 L202.82,425.41 L203.63,435.94 L204.44,445.97 L205.24,455.25 L206.05,463.55 L206.86,470.67 L207.66,476.42 L208.47,480.67 L209.28,483.3 L210.09,484.24" />
<path d="M208.6,321.28 L209.39,322.43 L210.19,325.85 L210.98,331.46 L211.77,339.12 L212.56,348.64 L213.36,359.78 L214.15,372.28 L214.94,385.82 L215.73,400.07 L216.53,414.68 L217.32,429.29 L218.11,443.54 L218.9,457.08 L219.69,469.58 L220.49,480.72 L221.28,490.24 L222.07,497.9 L222.86,503.51 L223.66,506.93 L224.45,508.09" />
<path d="M212.5,321.28 L213.29,322.43 L214.09,325.86 L214.88,331.47 L215.67,339.12 L216.46,348.64 L217.25,359.79 L218.05,372.28 L218.84,385.82 L219.63,400.07 L220.42,414.69 L221.22,429.3 L222.01,443.55 L222.8,457.09 L223.59,469.59 L224.39,480.73 L225.18,490.25 L225.97,497.91 L226.76,503.52 L227.56,506.95 L228.35,508.1" />
<path d="M227.16,346.81 L227.97,347.57 L228.78,349.98 L229.59,353.99 L230.39,359.51 L231.2,366.4 L232.01,374.51 L232.82,383.62 L233.62,393.52 L234.43,403.98 L235.24,414.72 L236.05,425.48 L236.85,436.01 L237.66,446.04 L238.47,455.33 L239.28,463.63 L240.08,470.75 L240.89,476.51 L241.7,480.75 L242.5,483.38 L243.31,484.33" />
<path d="M241.83,321.33 L242.62,322.48 L243.41,325.9 L244.2,331.51 L245,339.17 L245.79,348.69 L246.58,359.84 L247.37,372.34 L248.17,385.88 L248.96,400.13 L249.75,414.75 L250.54,429.36 L251.34,443.62 L252.13,457.16 L252.92,469.66 L253.71,480.81 L254.51,490.33 L255.3,497.99 L256.09,503.6 L256.88,507.03 L257.68,508.18" />
<path d="M245.72,321.33 L246.52,322.48 L247.31,325.91 L248.1,331.52 L248.89,339.18 L249.69,348.7 L250.48,359.84 L251.27,372.34 L252.06,385.89 L252.86,400.14 L253.65,414.76 L254.44,429.37 L255.23,443.62 L256.03,457.17 L256.82,469.67 L257.61,480.82 L258.4,490.34 L259.2,498 L259.99,503.61 L260.78,507.04 L261.57,508.19" />
<path d="M260.39,346.87 L261.19,347.62 L262,350.03 L262.81,354.05 L263.62,359.57 L264.43,366.46 L265.23,374.57 L266.04,383.68 L266.85,393.59 L267.66,404.04 L268.46,414.79 L269.27,425.56 L270.08,436.09 L270.88,446.12 L271.69,455.41 L272.5,463.71 L273.31,470.83 L274.12,476.59 L274.92,480.84 L275.73,483.47 L276.54,484.41" />
<path d="M275.05,321.38 L275.84,322.53 L276.63,325.95 L277.43,331.56 L278.22,339.22 L279.01,348.75 L279.81,359.9 L280.6,372.4 L281.39,385.94 L282.18,400.2 L282.98,414.82 L283.77,429.44 L284.56,443.69 L285.35,457.24 L286.15,469.74 L286.94,480.89 L287.73,490.42 L288.52,498.08 L289.32,503.69 L290.11,507.12 L290.9,508.27" />
<path d="M278.95,321.38 L279.74,322.53 L280.53,325.96 L281.33,331.57 L282.12,339.23 L282.91,348.75 L283.7,359.9 L284.5,372.41 L285.29,385.95 L286.08,400.21 L286.88,414.83 L287.67,429.44 L288.46,443.7 L289.25,457.25 L290.05,469.75 L290.84,480.9 L291.63,490.43 L292.42,498.09 L293.22,503.7 L294.01,507.13 L294.8,508.28" />
<path d="M293.61,346.92 L294.42,347.68 L295.23,350.09 L296.04,354.1 L296.84,359.63 L297.65,366.52 L298.46,374.63 L299.27,383.75 L300.07,393.66 L300.88,404.11 L301.69,414.86 L302.5,425.63 L303.3,436.16 L304.11,446.2 L304.92,455.49 L305.73,463.8 L306.53,470.92 L307.34,476.68 L308.15,480.92 L308.96,483.55 L309.76,484.5" />
<path d="M308.28,321.43 L309.07,322.58 L309.86,326 L310.65,331.62 L311.45,339.28 L312.24,348.8 L313.03,359.95 L313.82,372.46 L314.62,386.01 L315.41,400.27 L316.2,414.89 L316.99,429.51 L317.79,443.77 L318.58,457.32 L319.37,469.82 L320.16,480.98 L320.95,490.5 L321.75,498.17 L322.54,503.78 L323.33,507.21 L324.12,508.36" />
<path d="M312.18,321.43 L312.97,322.58 L313.76,326.01 L314.55,331.62 L315.35,339.28 L316.14,348.81 L316.93,359.96 L317.72,372.47 L318.51,386.02 L319.31,400.28 L320.1,414.9 L320.89,429.52 L321.69,443.78 L322.48,457.33 L323.27,469.83 L324.06,480.99 L324.85,490.51 L325.65,498.18 L326.44,503.79 L327.23,507.22 L328.02,508.37" />
<path d="M326.84,346.98 L327.65,347.73 L328.45,350.15 L329.26,354.16 L330.07,359.68 L330.88,366.58 L331.68,374.69 L332.49,383.81 L333.3,393.72 L334.11,404.18 L334.91,414.93 L335.72,425.7 L336.53,436.24 L337.34,446.28 L338.14,455.57 L338.95,463.88 L339.76,471 L340.56,476.76 L341.37,481.01 L342.18,483.64 L342.99,484.58" />
<path d="M341.5,321.48 L342.29,322.63 L343.09,326.05 L343.88,331.67 L344.67,339.33 L345.46,348.86 L346.26,360.01 L347.05,372.52 L347.84,386.07 L348.63,400.34 L349.43,414.96 L350.22,429.58 L351.01,443.85 L351.8,457.4 L352.6,469.91 L353.39,481.06 L354.18,490.59 L354.97,498.26 L355.77,503.87 L356.56,507.3 L357.35,508.45" />
<path d="M345.4,321.48 L346.19,322.64 L346.99,326.06 L347.78,331.67 L348.57,339.34 L349.36,348.87 L350.16,360.02 L350.95,372.53 L351.74,386.08 L352.53,400.34 L353.33,414.97 L354.12,429.59 L354.91,443.86 L355.7,457.41 L356.5,469.92 L357.29,481.07 L358.08,490.6 L358.87,498.27 L359.67,503.88 L360.46,507.31 L361.25,508.46" />
<path d="M360.06,347.04 L360.87,347.79 L361.68,350.2 L362.49,354.22 L363.29,359.74 L364.1,366.64 L364.91,374.75 L365.72,383.88 L366.52,393.79 L367.33,404.25 L368.14,415 L368.95,425.78 L369.75,436.32 L370.56,446.35 L371.37,455.65 L372.18,463.96 L372.98,471.08 L373.79,476.84 L374.6,481.09 L375.41,483.73 L376.21,484.67" />
<path d="M374.73,321.53 L375.52,322.68 L376.31,326.11 L377.1,331.72 L377.9,339.39 L378.69,348.92 L379.48,360.07 L380.27,372.58 L381.06,386.14 L381.86,400.4 L382.65,415.03 L383.44,429.66 L384.24,443.92 L385.03,457.48 L385.82,469.99 L386.61,481.15 L387.4,490.68 L388.2,498.35 L388.99,503.96 L389.78,507.39 L390.57,508.54" />
<path d="M378.62,321.53 L379.42,322.69 L380.21,326.11 L381,331.73 L381.8,339.39 L382.59,348.92 L383.38,360.08 L384.17,372.59 L384.96,386.14 L385.76,400.41 L386.55,415.04 L387.34,429.67 L388.13,443.93 L388.93,457.49 L389.72,470 L390.51,481.16 L391.3,490.69 L392.1,498.36 L392.89,503.97 L393.68,507.4 L394.47,508.55" />
<path d="M393.29,347.09 L394.1,347.84 L394.9,350.26 L395.71,354.28 L396.52,359.8 L397.33,366.7 L398.13,374.81 L398.94,383.94 L399.75,393.85 L400.56,404.32 L401.36,415.07 L402.17,425.85 L402.98,436.39 L403.79,446.43 L404.59,455.73 L405.4,464.04 L406.21,471.17 L407.01,476.93 L407.82,481.18 L408.63,483.81 L409.44,484.75" />
<path d="M407.95,321.58 L408.74,322.73 L409.53,326.16 L410.33,331.77 L411.12,339.44 L411.91,348.97 L412.7,360.13 L413.5,372.64 L414.29,386.2 L415.08,400.47 L415.88,415.1 L416.67,429.73 L417.46,444 L418.25,457.56 L419.05,470.07 L419.84,481.23 L420.63,490.76 L421.42,498.43 L422.22,504.05 L423.01,507.48 L423.8,508.63" />
<path d="M411.85,321.58 L412.64,322.74 L413.43,326.16 L414.23,331.78 L415.02,339.45 L415.81,348.98 L416.6,360.14 L417.4,372.65 L418.19,386.21 L418.98,400.48 L419.77,415.11 L420.57,429.74 L421.36,444.01 L422.15,457.57 L422.94,470.08 L423.74,481.24 L424.53,490.77 L425.32,498.44 L426.12,504.06 L426.91,507.49 L427.7,508.64" />
<path d="M426.51,347.15 L427.32,347.9 L428.13,350.31 L428.94,354.33 L429.74,359.86 L430.55,366.76 L431.36,374.88 L432.17,384 L432.97,393.92 L433.78,404.38 L434.59,415.14 L435.39,425.92 L436.2,436.47 L437.01,446.51 L437.82,455.8 L438.62,464.12 L439.43,471.25 L440.24,477.01 L441.05,481.26 L441.86,483.9 L442.66,484.84" />
<path d="M441.18,321.63 L441.97,322.78 L442.76,326.21 L443.55,331.82 L444.35,339.49 L445.14,349.03 L445.93,360.19 L446.72,372.7 L447.52,386.26 L448.31,400.54 L449.1,415.17 L449.89,429.8 L450.69,444.08 L451.48,457.64 L452.27,470.15 L453.06,481.32 L453.86,490.85 L454.65,498.52 L455.44,504.14 L456.23,507.57 L457.03,508.72" />
<path d="M445.07,321.63 L445.87,322.79 L446.66,326.21 L447.45,331.83 L448.25,339.5 L449.04,349.03 L449.83,360.2 L450.62,372.71 L451.42,386.27 L452.21,400.55 L453,415.18 L453.79,429.81 L454.58,444.09 L455.38,457.65 L456.17,470.16 L456.96,481.33 L457.75,490.86 L458.55,498.53 L459.34,504.15 L460.13,507.58 L460.93,508.73" />
<path d="M459.74,347.2 L460.55,347.96 L461.35,350.37 L462.16,354.39 L462.97,359.92 L463.78,366.82 L464.58,374.94 L465.39,384.07 L466.2,393.99 L467.01,404.45 L467.81,415.21 L468.62,426 L469.43,436.54 L470.24,446.59 L471.04,455.88 L471.85,464.2 L472.66,471.33 L473.47,477.1 L474.27,481.35 L475.08,483.98 L475.89,484.93" />
<path d="M474.4,321.68 L475.19,322.83 L475.99,326.26 L476.78,331.88 L477.57,339.55 L478.36,349.08 L479.16,360.25 L479.95,372.77 L480.74,386.33 L481.53,400.6 L482.33,415.24 L483.12,429.88 L483.91,444.15 L484.7,457.72 L485.5,470.24 L486.29,481.4 L487.08,490.94 L487.87,498.61 L488.67,504.23 L489.46,507.66 L490.25,508.81" />
<path d="M478.3,321.68 L479.09,322.84 L479.88,326.26 L480.68,331.88 L481.47,339.55 L482.26,349.09 L483.06,360.25 L483.85,372.77 L484.64,386.34 L485.43,400.61 L486.23,415.25 L487.02,429.89 L487.81,444.16 L488.6,457.73 L489.39,470.25 L490.19,481.41 L490.98,490.95 L491.77,498.62 L492.56,504.24 L493.36,507.67 L494.15,508.83" />
<path d="M492.96,347.26 L493.77,348.01 L494.58,350.43 L495.39,354.45 L496.19,359.98 L497,366.88 L497.81,375 L498.62,384.13 L499.42,394.05 L500.23,404.52 L501.04,415.28 L501.85,426.07 L502.65,436.62 L503.46,446.66 L504.27,455.96 L505.08,464.28 L505.88,471.41 L506.69,477.18 L507.5,481.43 L508.31,484.07 L509.11,485.01" />
<path d="M507.63,321.73 L508.42,322.88 L509.21,326.31 L510,331.93 L510.8,339.6 L511.59,349.14 L512.38,360.31 L513.17,372.83 L513.97,386.39 L514.76,400.67 L515.55,415.31 L516.34,429.95 L517.13,444.23 L517.93,457.8 L518.72,470.32 L519.51,481.49 L520.3,491.03 L521.1,498.7 L521.89,504.32 L522.68,507.75 L523.47,508.91" />
<path d="M511.53,321.73 L512.32,322.89 L513.11,326.32 L513.9,331.94 L514.7,339.61 L515.49,349.15 L516.28,360.31 L517.07,372.83 L517.87,386.4 L518.66,400.68 L519.45,415.32 L520.24,429.96 L521.03,444.24 L521.83,457.81 L522.62,470.33 L523.41,481.5 L524.21,491.04 L525,498.71 L525.79,504.33 L526.58,507.76 L527.38,508.92" />
<path d="M526.19,347.31 L527,348.07 L527.8,350.48 L528.61,354.5 L529.42,360.03 L530.22,366.94 L531.03,375.06 L531.84,384.19 L532.65,394.12 L533.45,404.59 L534.26,415.35 L535.07,426.14 L535.88,436.69 L536.68,446.74 L537.49,456.04 L538.3,464.36 L539.11,471.5 L539.91,477.26 L540.72,481.52 L541.53,484.15 L542.34,485.1" />
<path d="M540.85,321.78 L541.64,322.93 L542.44,326.36 L543.23,331.98 L544.02,339.66 L544.81,349.2 L545.61,360.36 L546.4,372.89 L547.19,386.46 L547.98,400.74 L548.78,415.38 L549.57,430.03 L550.36,444.31 L551.15,457.88 L551.95,470.4 L552.74,481.57 L553.53,491.11 L554.32,498.79 L555.12,504.41 L555.91,507.84 L556.7,509" />
<path d="M544.75,321.78 L545.54,322.94 L546.34,326.37 L547.13,331.99 L547.92,339.66 L548.71,349.2 L549.51,360.37 L550.3,372.89 L551.09,386.46 L551.88,400.75 L552.68,415.39 L553.47,430.03 L554.26,444.32 L555.05,457.89 L555.85,470.41 L556.64,481.58 L557.43,491.12 L558.22,498.8 L559.02,504.42 L559.81,507.85 L560.6,509.01" />
<path d="M559.41,347.37 L560.22,348.12 L561.03,350.54 L561.84,354.56 L562.64,360.09 L563.45,367 L564.26,375.12 L565.07,384.26 L565.87,394.18 L566.68,404.66 L567.49,415.42 L568.29,426.21 L569.1,436.77 L569.91,446.82 L570.72,456.12 L571.52,464.45 L572.33,471.58 L573.14,477.35 L573.95,481.6 L574.75,484.24 L575.56,485.18" />
<path d="M574.07,321.83 L574.87,322.98 L575.66,326.41 L576.45,332.03 L577.24,339.71 L578.04,349.25 L578.83,360.42 L579.62,372.95 L580.41,386.52 L581.21,400.81 L582,415.45 L582.79,430.1 L583.58,444.38 L584.38,457.96 L585.17,470.49 L585.96,481.66 L586.75,491.2 L587.55,498.88 L588.34,504.5 L589.13,507.93 L589.92,509.09" />
<path d="M577.98,321.83 L578.77,322.99 L579.56,326.42 L580.35,332.04 L581.14,339.72 L581.94,349.26 L582.73,360.43 L583.52,372.96 L584.32,386.53 L585.11,400.81 L585.9,415.46 L586.69,430.11 L587.49,444.39 L588.28,457.97 L589.07,470.49 L589.86,481.67 L590.66,491.21 L591.45,498.89 L592.24,504.51 L593.03,507.94 L593.83,509.1" />
<path d="M592.64,347.42 L593.44,348.18 L594.25,350.6 L595.06,354.62 L595.87,360.15 L596.67,367.06 L597.48,375.18 L598.29,384.32 L599.1,394.25 L599.9,404.72 L600.71,415.49 L601.52,426.29 L602.33,436.84 L603.13,446.9 L603.94,456.2 L604.75,464.53 L605.56,471.66 L606.36,477.43 L607.17,481.69 L607.98,484.32 L608.79,485.27" />
<path d="M607.3,321.88 L608.09,323.03 L608.88,326.46 L609.68,332.09 L610.47,339.76 L611.26,349.31 L612.05,360.48 L612.85,373.01 L613.64,386.59 L614.43,400.87 L615.22,415.52 L616.02,430.17 L616.81,444.46 L617.6,458.04 L618.39,470.57 L619.19,481.74 L619.98,491.29 L620.77,498.97 L621.56,504.59 L622.36,508.02 L623.15,509.18" />
<path d="M611.2,321.88 L611.99,323.04 L612.79,326.47 L613.58,332.09 L614.37,339.77 L615.16,349.31 L615.96,360.49 L616.75,373.02 L617.54,386.59 L618.33,400.88 L619.12,415.53 L619.92,430.18 L620.71,444.47 L621.5,458.05 L622.3,470.58 L623.09,481.75 L623.88,491.3 L624.67,498.98 L625.47,504.6 L626.26,508.03 L627.05,509.19" />
<path d="M625.86,347.48 L626.67,348.24 L627.48,350.65 L628.28,354.68 L629.09,360.21 L629.9,367.12 L630.71,375.25 L631.51,384.38 L632.32,394.31 L633.13,404.79 L633.94,415.56 L634.74,426.36 L635.55,436.92 L636.36,446.97 L637.17,456.28 L637.97,464.61 L638.78,471.75 L639.59,477.52 L640.4,481.77 L641.2,484.41 L642.01,485.36" />
<path d="M640.52,321.93 L641.32,323.08 L642.11,326.51 L642.9,332.14 L643.69,339.82 L644.49,349.36 L645.28,360.54 L646.07,373.07 L646.87,386.65 L647.66,400.94 L648.45,415.59 L649.24,430.25 L650.03,444.54 L650.83,458.12 L651.62,470.65 L652.41,481.83 L653.21,491.37 L654,499.06 L654.79,504.68 L655.58,508.11 L656.38,509.27" />
<path d="M644.43,321.93 L645.22,323.09 L646.01,326.52 L646.8,332.14 L647.6,339.82 L648.39,349.37 L649.18,360.55 L649.97,373.08 L650.77,386.66 L651.56,400.95 L652.35,415.6 L653.14,430.25 L653.94,444.55 L654.73,458.13 L655.52,470.66 L656.31,481.84 L657.11,491.38 L657.9,499.07 L658.69,504.69 L659.48,508.13 L660.28,509.28" />
<path d="M659.09,347.54 L659.89,348.29 L660.7,350.71 L661.51,354.73 L662.32,360.27 L663.12,367.18 L663.93,375.31 L664.74,384.45 L665.55,394.38 L666.36,404.86 L667.16,415.63 L667.97,426.43 L668.78,436.99 L669.58,447.05 L670.39,456.36 L671.2,464.69 L672.01,471.83 L672.81,477.6 L673.62,481.86 L674.43,484.5 L675.24,485.44" />
<path d="M673.75,321.98 L674.54,323.13 L675.34,326.56 L676.13,332.19 L676.92,339.87 L677.71,349.42 L678.5,360.6 L679.3,373.13 L680.09,386.71 L680.88,401.01 L681.67,415.66 L682.47,430.32 L683.26,444.62 L684.05,458.2 L684.84,470.73 L685.64,481.91 L686.43,491.46 L687.22,499.14 L688.01,504.77 L688.81,508.21 L689.6,509.36" />
<path d="M677.65,321.98 L678.44,323.14 L679.24,326.57 L680.03,332.2 L680.82,339.88 L681.61,349.43 L682.41,360.6 L683.2,373.14 L683.99,386.72 L684.78,401.02 L685.58,415.67 L686.37,430.33 L687.16,444.62 L687.95,458.21 L688.75,470.74 L689.54,481.92 L690.33,491.47 L691.12,499.15 L691.91,504.78 L692.71,508.22 L693.5,509.37" />
<path d="M692.31,347.59 L693.12,348.35 L693.93,350.76 L694.74,354.79 L695.54,360.33 L696.35,367.24 L697.16,375.37 L697.96,384.51 L698.77,394.45 L699.58,404.93 L700.39,415.7 L701.19,426.51 L702,437.07 L702.81,447.13 L703.62,456.44 L704.42,464.77 L705.23,471.91 L706.04,477.68 L706.85,481.94 L707.65,484.58 L708.46,485.53" />
<path d="M706.98,322.03 L707.77,323.18 L708.56,326.62 L709.35,332.24 L710.14,339.93 L710.94,349.48 L711.73,360.66 L712.52,373.19 L713.32,386.78 L714.11,401.08 L714.9,415.73 L715.69,430.39 L716.49,444.69 L717.28,458.28 L718.07,470.82 L718.86,482 L719.66,491.55 L720.45,499.23 L721.24,504.86 L722.03,508.3 L722.83,509.45" />
<path d="M710.88,322.03 L711.67,323.19 L712.46,326.62 L713.25,332.25 L714.05,339.93 L714.84,349.48 L715.63,360.66 L716.42,373.2 L717.22,386.79 L718.01,401.08 L718.8,415.74 L719.59,430.4 L720.39,444.7 L721.18,458.29 L721.97,470.83 L722.76,482.01 L723.56,491.56 L724.35,499.24 L725.14,504.87 L725.93,508.31 L726.73,509.46" />
<path d="M725.54,347.65 L726.35,348.4 L727.15,350.82 L727.96,354.85 L728.77,360.38 L729.58,367.3 L730.38,375.43 L731.19,384.58 L732,394.51 L732.81,405 L733.61,415.77 L734.42,426.58 L735.23,437.14 L736.03,447.21 L736.84,456.52 L737.65,464.85 L738.46,471.99 L739.26,477.77 L740.07,482.03 L740.88,484.67 L741.69,485.61" />
<path d="M740.2,322.08 L740.99,323.23 L741.79,326.67 L742.58,332.29 L743.37,339.98 L744.16,349.53 L744.96,360.71 L745.75,373.25 L746.54,386.84 L747.33,401.14 L748.12,415.81 L748.92,430.47 L749.71,444.77 L750.5,458.36 L751.29,470.9 L752.09,482.08 L752.88,491.64 L753.67,499.32 L754.46,504.95 L755.26,508.39 L756.05,509.54" />
<path d="M744.1,322.08 L744.89,323.24 L745.69,326.67 L746.48,332.3 L747.27,339.99 L748.06,349.54 L748.86,360.72 L749.65,373.26 L750.44,386.85 L751.23,401.15 L752.03,415.81 L752.82,430.48 L753.61,444.78 L754.4,458.37 L755.2,470.91 L755.99,482.09 L756.78,491.65 L757.57,499.33 L758.37,504.96 L759.16,508.4 L759.95,509.55" />
<path d="M758.76,347.7 L759.57,348.46 L760.38,350.88 L761.19,354.9 L761.99,360.44 L762.8,367.36 L763.61,375.49 L764.41,384.64 L765.22,394.58 L766.03,405.07 L766.84,415.85 L767.64,426.65 L768.45,437.22 L769.26,447.28 L770.07,456.6 L770.88,464.93 L771.68,472.08 L772.49,477.85 L773.3,482.11 L774.1,484.75 L774.91,485.7" />
<path d="M773.42,322.13 L774.22,323.28 L775.01,326.72 L775.8,332.35 L776.59,340.03 L777.39,349.59 L778.18,360.77 L778.97,373.32 L779.76,386.91 L780.56,401.21 L781.35,415.88 L782.14,430.54 L782.93,444.85 L783.73,458.44 L784.52,470.98 L785.31,482.17 L786.1,491.72 L786.9,499.41 L787.69,505.04 L788.48,508.48 L789.27,509.63" />
<path d="M777.33,322.13 L778.12,323.29 L778.91,326.72 L779.7,332.35 L780.5,340.04 L781.29,349.59 L782.08,360.78 L782.87,373.32 L783.66,386.91 L784.46,401.22 L785.25,415.88 L786.04,430.55 L786.84,444.85 L787.63,458.45 L788.42,470.99 L789.21,482.18 L790,491.73 L790.8,499.42 L791.59,505.05 L792.38,508.49 L793.17,509.64" />
<path d="M791.99,347.76 L792.79,348.51 L793.6,350.93 L794.41,354.96 L795.22,360.5 L796.02,367.42 L796.83,375.56 L797.64,384.7 L798.45,394.64 L799.25,405.13 L800.06,415.92 L800.87,426.72 L801.68,437.29 L802.48,447.36 L803.29,456.68 L804.1,465.01 L804.91,472.16 L805.71,477.94 L806.52,482.2 L807.33,484.84 L808.14,485.78" />
<path d="M806.65,322.18 L807.44,323.33 L808.24,326.77 L809.03,332.4 L809.82,340.09 L810.61,349.64 L811.4,360.83 L812.2,373.38 L812.99,386.97 L813.78,401.28 L814.58,415.95 L815.37,430.61 L816.16,444.92 L816.95,458.52 L817.75,471.06 L818.54,482.25 L819.33,491.81 L820.12,499.5 L820.91,505.13 L821.71,508.57 L822.5,509.73" />
<path d="M810.55,322.18 L811.34,323.34 L812.14,326.77 L812.93,332.41 L813.72,340.09 L814.51,349.65 L815.31,360.84 L816.1,373.38 L816.89,386.98 L817.68,401.29 L818.48,415.95 L819.27,430.62 L820.06,444.93 L820.85,458.53 L821.65,471.07 L822.44,482.26 L823.23,491.82 L824.02,499.51 L824.82,505.14 L825.61,508.58 L826.4,509.74" />
<path d="M825.21,347.81 L826.02,348.57 L826.83,350.99 L827.63,355.02 L828.44,360.56 L829.25,367.48 L830.06,375.62 L830.87,384.77 L831.67,394.71 L832.48,405.2 L833.29,415.99 L834.09,426.8 L834.9,437.37 L835.71,447.44 L836.52,456.76 L837.32,465.1 L838.13,472.24 L838.94,478.02 L839.75,482.28 L840.55,484.92 L841.36,485.87" />
<path d="M839.88,322.23 L840.67,323.38 L841.46,326.82 L842.25,332.45 L843.04,340.14 L843.84,349.7 L844.63,360.89 L845.42,373.44 L846.21,387.03 L847.01,401.35 L847.8,416.02 L848.59,430.69 L849.38,445 L850.18,458.6 L850.97,471.15 L851.76,482.34 L852.55,491.9 L853.35,499.59 L854.14,505.22 L854.93,508.66 L855.72,509.82" />
<path d="M843.78,322.23 L844.57,323.39 L845.36,326.83 L846.15,332.46 L846.95,340.15 L847.74,349.71 L848.53,360.9 L849.32,373.45 L850.12,387.04 L850.91,401.35 L851.7,416.03 L852.49,430.7 L853.29,445.01 L854.08,458.61 L854.87,471.16 L855.66,482.35 L856.46,491.91 L857.25,499.6 L858.04,505.23 L858.83,508.67 L859.62,509.83" />
<path d="M858.44,347.87 L859.25,348.63 L860.05,351.05 L860.86,355.08 L861.67,360.62 L862.47,367.54 L863.28,375.68 L864.09,384.83 L864.9,394.78 L865.7,405.27 L866.51,416.06 L867.32,426.87 L868.13,437.44 L868.93,447.52 L869.74,456.84 L870.55,465.18 L871.36,472.33 L872.16,478.11 L872.97,482.37 L873.78,485.01 L874.59,485.96" />
<path d="M873.1,322.28 L873.89,323.43 L874.69,326.87 L875.48,332.5 L876.27,340.2 L877.06,349.76 L877.86,360.95 L878.65,373.5 L879.44,387.1 L880.23,401.41 L881.03,416.09 L881.82,430.76 L882.61,445.08 L883.4,458.68 L884.2,471.23 L884.99,482.42 L885.78,491.98 L886.57,499.68 L887.37,505.31 L888.16,508.75 L888.95,509.91" />
<path d="M877,322.28 L877.79,323.44 L878.59,326.88 L879.38,332.51 L880.17,340.2 L880.96,349.76 L881.76,360.96 L882.55,373.51 L883.34,387.11 L884.13,401.42 L884.93,416.1 L885.72,430.77 L886.51,445.09 L887.3,458.69 L888.1,471.24 L888.89,482.43 L889.68,491.99 L890.47,499.69 L891.27,505.32 L892.06,508.76 L892.85,509.92" />
<path d="M891.66,347.92 L892.47,348.68 L893.28,351.1 L894.09,355.13 L894.89,360.68 L895.7,367.6 L896.51,375.74 L897.32,384.89 L898.12,394.84 L898.93,405.34 L899.74,416.13 L900,419.64" />
<path d="M127.69,346.65 L128.45,347.4 L129.22,349.81 L129.99,353.82 L130.76,359.33 L131.52,366.22 L132.29,374.32 L133.06,383.43 L133.83,393.33 L134.59,403.77 L135.36,414.5 L136.13,425.27 L136.9,435.79 L137.66,445.81 L138.43,455.09 L139.2,463.39 L139.97,470.5 L140.73,476.25 L141.5,480.5 L142.27,483.12 L143.04,484.07" />
<path d="M124.4,342 L126,380 L127.9,415.5 L129.8,455 L132.2,502" />
<path d="M1057,283.0 L1101.0,283.0 A32.0,32.0 0 0 1 1133.0,315.0 L1133.0,403.0"/>
<path d="M1057,549.0 L1101.0,549.0 A32.0,32.0 0 0 0 1133.0,517.0 L1133.0,429.0"/>
<path d="M1100,283 L1100,403" />
<path d="M1100,429 L1100,549" />
<path d="M1133,403 L1093,403 L1093,429 L1133,429" />
<circle cx="1749.5" cy="415.5" r="133"/>
<path d="M1650.28,403 A100,100 0 0 1 1848.72,403"/>
<path d="M1650.42,429 A100,100 0 0 0 1848.58,429"/>
<path d="M1749.5,229.5 L1741.69,216.65 L1734.91,230.07 L1726.11,217.88 L1720.4,231.79 L1710.68,220.32 L1706.08,234.64 L1695.48,223.97 L1692.02,238.6 L1680.62,228.8 L1678.32,243.66 L1666.19,234.78 L1665.06,249.77 L1652.26,241.87 L1652.32,256.91 L1638.94,250.04 L1640.17,265.02 L1626.3,259.22 L1628.7,274.06 L1614.42,269.37 L1617.98,283.98 L1603.37,280.42 L1608.06,294.7 L1593.22,292.3 L1599.02,306.17 L1584.04,304.94 L1590.91,318.32 L1575.87,318.26 L1583.77,331.06 L1568.78,332.19 L1577.66,344.32 L1562.8,346.62 L1572.6,358.02 L1557.97,361.48 L1568.64,372.08 L1554.32,376.68 L1565.79,386.4 L1551.88,392.11 L1564.07,400.91 L1550.65,407.69 L1563.5,415.5 L1550.65,423.31 L1564.07,430.09 L1551.88,438.89 L1565.79,444.6 L1554.32,454.32 L1568.64,458.92 L1557.97,469.52 L1572.6,472.98 L1562.8,484.38 L1577.66,486.68 L1568.78,498.81 L1583.77,499.94 L1575.87,512.74 L1590.91,512.68 L1584.04,526.06 L1599.02,524.83 L1593.22,538.7 L1608.06,536.3 L1603.37,550.58 L1617.98,547.02 L1614.42,561.63 L1628.7,556.94 L1626.3,571.78 L1640.17,565.98 L1638.94,580.96 L1652.32,574.09 L1652.26,589.13 L1665.06,581.23 L1666.19,596.22 L1678.32,587.34 L1680.62,602.2 L1692.02,592.4 L1695.48,607.03 L1706.08,596.36 L1710.68,610.68 L1720.4,599.21 L1726.11,613.12 L1734.91,600.93 L1741.69,614.35 L1749.5,601.5 L1757.31,614.35 L1764.09,600.93 L1772.89,613.12 L1778.6,599.21 L1788.32,610.68 L1792.92,596.36 L1803.52,607.03 L1806.98,592.4 L1818.38,602.2 L1820.68,587.34 L1832.81,596.22 L1833.94,581.23 L1846.74,589.13 L1846.68,574.09 L1860.06,580.96 L1858.83,565.98 L1872.7,571.78 L1870.3,556.94 L1884.58,561.63 L1881.02,547.02 L1895.63,550.58 L1890.94,536.3 L1905.78,538.7 L1899.98,524.83 L1914.96,526.06 L1908.09,512.68 L1923.13,512.74 L1915.23,499.94 L1930.22,498.81 L1921.34,486.68 L1936.2,484.38 L1926.4,472.98 L1941.03,469.52 L1930.36,458.92 L1944.68,454.32 L1933.21,444.6 L1947.12,438.89 L1934.93,430.09 L1948.35,423.31 L1935.5,415.5 L1948.35,407.69 L1934.93,400.91 L1947.12,392.11 L1933.21,386.4 L1944.68,376.68 L1930.36,372.08 L1941.03,361.48 L1926.4,358.02 L1936.2,346.62 L1921.34,344.32 L1930.22,332.19 L1915.23,331.06 L1923.13,318.26 L1908.09,318.32 L1914.96,304.94 L1899.98,306.17 L1905.78,292.3 L1890.94,294.7 L1895.63,280.42 L1881.02,283.98 L1884.58,269.37 L1870.3,274.06 L1872.7,259.22 L1858.83,265.02 L1860.06,250.04 L1846.68,256.91 L1846.74,241.87 L1833.94,249.77 L1832.81,234.78 L1820.68,243.66 L1818.38,228.8 L1806.98,238.6 L1803.52,223.97 L1792.92,234.64 L1788.32,220.32 L1778.6,231.79 L1772.89,217.88 L1764.09,230.07 L1757.31,216.65 Z" stroke-linejoin="miter"/>
<path d="M1617.14,403 L1881.86,403" />
<path d="M1617.14,429 L1881.86,429" />
<path d="M900,121 L900,200" />
<path d="M1056,121 L1056,200" />
<path d="M900,136.5 L936,136.5" />
<path d="M1019.5,136.5 L1056,136.5" />
<path d="M900,136.5 L934,141.7 L934,131.3 Z" fill="#000"/>
<path d="M1056.5,136.5 L1022.5,131.3 L1022.5,141.7 Z" fill="#000"/>
<path d="M103,467 L103,722.4" />
<path d="M900,630 L900,722" />
<path d="M103,707 L481.6,707" />
<path d="M522,707 L900,707" />
<path d="M103,707 L136.5,712.2 L136.5,701.8 Z" fill="#000"/>
<path d="M900,707 L866.5,701.8 L866.5,712.2 Z" fill="#000"/>
<path d="M1115,283 L1342,283" />
<path d="M1115.5,549 L1342,549" />
<path d="M1326,283 L1326,399.6" />
<path d="M1326,461 L1326,549" />
<path d="M1326,283 L1320.8,316.5 L1331.2,316.5 Z" fill="#000"/>
<path d="M1326,549 L1331.2,515 L1320.8,515 Z" fill="#000"/>
<path d="M1148,403 L1201,403" />
<path d="M1148,429 L1201,429" />
<path d="M1220.5,336 L1187,336 L1187,402" />
<path d="M1187,402 L1192.2,368.5 L1181.8,368.5 Z" fill="#000"/>
<path d="M1187,430 L1187,495.5" />
<path d="M1187,430 L1181.8,462.5 L1192.2,462.5 Z" fill="#000"/>
<path d="M1601.31,549.06 L1976.4,211 L2010,211" />
<path d="M1897.69,281.94 L1869.33,300.5 L1876.29,308.23 Z" fill="#000"/>
<path d="M1601.31,549.06 L1629.67,530.5 L1622.71,522.77 Z" fill="#000"/>
</g>
<g stroke-width="1" transform="translate(-0.5,0.5)">
<path d="M103,451.5 L103,377.6 L124.4,342 L127.7,346.65 L142.15,321.18 L146.05,321.18 L160.71,346.7 L175.38,321.23 L179.27,321.23 L193.94,346.76 L208.6,321.28 L212.5,321.28 L227.16,346.81 L241.83,321.33 L245.72,321.33 L260.39,346.87 L275.05,321.38 L278.95,321.38 L293.61,346.92 L308.28,321.43 L312.18,321.43 L326.84,346.98 L341.5,321.48 L345.4,321.48 L360.06,347.04 L374.73,321.53 L378.62,321.53 L393.29,347.09 L407.95,321.58 L411.85,321.58 L426.51,347.15 L441.18,321.63 L445.07,321.63 L459.74,347.2 L474.4,321.68 L478.3,321.68 L492.96,347.26 L507.63,321.73 L511.53,321.73 L526.19,347.31 L540.85,321.78 L544.75,321.78 L559.41,347.37 L574.07,321.83 L577.98,321.83 L592.64,347.42 L607.3,321.88 L611.2,321.88 L625.86,347.48 L640.52,321.93 L644.43,321.93 L659.09,347.54 L673.75,321.98 L677.65,321.98 L692.31,347.59 L706.98,322.03 L710.88,322.03 L725.54,347.65 L740.2,322.08 L744.1,322.08 L758.76,347.7 L773.42,322.13 L777.33,322.13 L791.99,347.76 L806.65,322.18 L810.55,322.18 L825.21,347.81 L839.88,322.23 L843.78,322.23 L858.44,347.87 L873.1,322.28 L877,322.28 L891.66,347.92 L900,333.37" />
<path d="M103,451.5 L132.2,502 L143.04,484.07 L158,507.91 L161.9,507.91 L176.86,484.15 L191.22,508 L195.12,508 L210.09,484.24 L224.45,508.09 L228.35,508.09 L243.31,484.32 L257.68,508.18 L261.57,508.18 L276.54,484.41 L290.9,508.27 L294.8,508.27 L309.76,484.5 L324.12,508.37 L328.02,508.37 L342.99,484.58 L357.35,508.46 L361.25,508.46 L376.21,484.67 L390.57,508.55 L394.47,508.55 L409.44,484.75 L423.8,508.64 L427.7,508.64 L442.66,484.84 L457.03,508.73 L460.93,508.73 L475.89,484.93 L490.25,508.82 L494.15,508.82 L509.11,485.01 L523.47,508.91 L527.38,508.91 L542.34,485.1 L556.7,509 L560.6,509 L575.56,485.18 L589.92,509.09 L593.83,509.09 L608.79,485.27 L623.15,509.18 L627.05,509.18 L642.01,485.35 L656.38,509.28 L660.28,509.28 L675.24,485.44 L689.6,509.37 L693.5,509.37 L708.46,485.53 L722.83,509.46 L726.73,509.46 L741.69,485.61 L756.05,509.55 L759.95,509.55 L774.91,485.7 L789.27,509.64 L793.17,509.64 L808.14,485.78 L822.5,509.73 L826.4,509.73 L841.36,485.87 L855.72,509.82 L859.62,509.82 L874.59,485.95 L888.95,509.91 L892.85,509.91 L900,498.51" />
<path d="M142.15,321.18 L142.94,322.33 L143.74,325.75 L144.53,331.35 L145.32,339.01 L146.11,348.52 L146.91,359.66 L147.7,372.15 L148.49,385.69 L149.28,399.93 L150.07,414.54 L150.87,429.14 L151.66,443.39 L152.45,456.92 L153.25,469.41 L154.04,480.55 L154.83,490.07 L155.62,497.72 L156.41,503.33 L157.21,506.75 L158,507.9" />
<path d="M146.05,321.18 L146.84,322.33 L147.63,325.75 L148.43,331.36 L149.22,339.02 L150.01,348.53 L150.8,359.67 L151.6,372.16 L152.39,385.69 L153.18,399.94 L153.97,414.54 L154.77,429.15 L155.56,443.39 L156.35,456.93 L157.14,469.42 L157.94,480.56 L158.73,490.08 L159.52,497.73 L160.31,503.34 L161.11,506.76 L161.9,507.92" />
<path d="M160.71,346.7 L161.52,347.45 L162.33,349.86 L163.14,353.87 L163.94,359.39 L164.75,366.28 L165.56,374.38 L166.37,383.49 L167.17,393.39 L167.98,403.84 L168.79,414.58 L169.59,425.34 L170.4,435.86 L171.21,445.89 L172.02,455.17 L172.83,463.47 L173.63,470.59 L174.44,476.34 L175.25,480.58 L176.06,483.21 L176.86,484.15" />
<path d="M175.38,321.23 L176.17,322.38 L176.96,325.8 L177.75,331.41 L178.54,339.06 L179.34,348.58 L180.13,359.72 L180.92,372.21 L181.72,385.75 L182.51,400 L183.3,414.61 L184.09,429.21 L184.88,443.46 L185.68,457 L186.47,469.49 L187.26,480.64 L188.06,490.15 L188.85,497.81 L189.64,503.42 L190.43,506.84 L191.22,508" />
<path d="M179.27,321.23 L180.07,322.38 L180.86,325.81 L181.65,331.41 L182.44,339.07 L183.24,348.59 L184.03,359.73 L184.82,372.22 L185.61,385.76 L186.41,400.01 L187.2,414.61 L187.99,429.22 L188.78,443.47 L189.58,457.01 L190.37,469.5 L191.16,480.65 L191.95,490.16 L192.75,497.82 L193.54,503.43 L194.33,506.85 L195.12,508.01" />
<path d="M193.94,346.76 L194.75,347.51 L195.55,349.92 L196.36,353.93 L197.17,359.45 L197.97,366.34 L198.78,374.44 L199.59,383.56 L200.4,393.46 L201.21,403.91 L202.01,414.65 L202.82,425.41 L203.63,435.94 L204.44,445.97 L205.24,455.25 L206.05,463.55 L206.86,470.67 L207.66,476.42 L208.47,480.67 L209.28,483.3 L210.09,484.24" />
<path d="M208.6,321.28 L209.39,322.43 L210.19,325.85 L210.98,331.46 L211.77,339.12 L212.56,348.64 L213.36,359.78 L214.15,372.28 L214.94,385.82 L215.73,400.07 L216.53,414.68 L217.32,429.29 L218.11,443.54 L218.9,457.08 L219.69,469.58 L220.49,480.72 L221.28,490.24 L222.07,497.9 L222.86,503.51 L223.66,506.93 L224.45,508.09" />
<path d="M212.5,321.28 L213.29,322.43 L214.09,325.86 L214.88,331.47 L215.67,339.12 L216.46,348.64 L217.25,359.79 L218.05,372.28 L218.84,385.82 L219.63,400.07 L220.42,414.69 L221.22,429.3 L222.01,443.55 L222.8,457.09 L223.59,469.59 L224.39,480.73 L225.18,490.25 L225.97,497.91 L226.76,503.52 L227.56,506.95 L228.35,508.1" />
<path d="M227.16,346.81 L227.97,347.57 L228.78,349.98 L229.59,353.99 L230.39,359.51 L231.2,366.4 L232.01,374.51 L232.82,383.62 L233.62,393.52 L234.43,403.98 L235.24,414.72 L236.05,425.48 L236.85,436.01 L237.66,446.04 L238.47,455.33 L239.28,463.63 L240.08,470.75 L240.89,476.51 L241.7,480.75 L242.5,483.38 L243.31,484.33" />
<path d="M241.83,321.33 L242.62,322.48 L243.41,325.9 L244.2,331.51 L245,339.17 L245.79,348.69 L246.58,359.84 L247.37,372.34 L248.17,385.88 L248.96,400.13 L249.75,414.75 L250.54,429.36 L251.34,443.62 L252.13,457.16 L252.92,469.66 L253.71,480.81 L254.51,490.33 L255.3,497.99 L256.09,503.6 L256.88,507.03 L257.68,508.18" />
<path d="M245.72,321.33 L246.52,322.48 L247.31,325.91 L248.1,331.52 L248.89,339.18 L249.69,348.7 L250.48,359.84 L251.27,372.34 L252.06,385.89 L252.86,400.14 L253.65,414.76 L254.44,429.37 L255.23,443.62 L256.03,457.17 L256.82,469.67 L257.61,480.82 L258.4,490.34 L259.2,498 L259.99,503.61 L260.78,507.04 L261.57,508.19" />
<path d="M260.39,346.87 L261.19,347.62 L262,350.03 L262.81,354.05 L263.62,359.57 L264.43,366.46 L265.23,374.57 L266.04,383.68 L266.85,393.59 L267.66,404.04 L268.46,414.79 L269.27,425.56 L270.08,436.09 L270.88,446.12 L271.69,455.41 L272.5,463.71 L273.31,470.83 L274.12,476.59 L274.92,480.84 L275.73,483.47 L276.54,484.41" />
<path d="M275.05,321.38 L275.84,322.53 L276.63,325.95 L277.43,331.56 L278.22,339.22 L279.01,348.75 L279.81,359.9 L280.6,372.4 L281.39,385.94 L282.18,400.2 L282.98,414.82 L283.77,429.44 L284.56,443.69 L285.35,457.24 L286.15,469.74 L286.94,480.89 L287.73,490.42 L288.52,498.08 L289.32,503.69 L290.11,507.12 L290.9,508.27" />
<path d="M278.95,321.38 L279.74,322.53 L280.53,325.96 L281.33,331.57 L282.12,339.23 L282.91,348.75 L283.7,359.9 L284.5,372.41 L285.29,385.95 L286.08,400.21 L286.88,414.83 L287.67,429.44 L288.46,443.7 L289.25,457.25 L290.05,469.75 L290.84,480.9 L291.63,490.43 L292.42,498.09 L293.22,503.7 L294.01,507.13 L294.8,508.28" />
<path d="M293.61,346.92 L294.42,347.68 L295.23,350.09 L296.04,354.1 L296.84,359.63 L297.65,366.52 L298.46,374.63 L299.27,383.75 L300.07,393.66 L300.88,404.11 L301.69,414.86 L302.5,425.63 L303.3,436.16 L304.11,446.2 L304.92,455.49 L305.73,463.8 L306.53,470.92 L307.34,476.68 L308.15,480.92 L308.96,483.55 L309.76,484.5" />
<path d="M308.28,321.43 L309.07,322.58 L309.86,326 L310.65,331.62 L311.45,339.28 L312.24,348.8 L313.03,359.95 L313.82,372.46 L314.62,386.01 L315.41,400.27 L316.2,414.89 L316.99,429.51 L317.79,443.77 L318.58,457.32 L319.37,469.82 L320.16,480.98 L320.95,490.5 L321.75,498.17 L322.54,503.78 L323.33,507.21 L324.12,508.36" />
<path d="M312.18,321.43 L312.97,322.58 L313.76,326.01 L314.55,331.62 L315.35,339.28 L316.14,348.81 L316.93,359.96 L317.72,372.47 L318.51,386.02 L319.31,400.28 L320.1,414.9 L320.89,429.52 L321.69,443.78 L322.48,457.33 L323.27,469.83 L324.06,480.99 L324.85,490.51 L325.65,498.18 L326.44,503.79 L327.23,507.22 L328.02,508.37" />
<path d="M326.84,346.98 L327.65,347.73 L328.45,350.15 L329.26,354.16 L330.07,359.68 L330.88,366.58 L331.68,374.69 L332.49,383.81 L333.3,393.72 L334.11,404.18 L334.91,414.93 L335.72,425.7 L336.53,436.24 L337.34,446.28 L338.14,455.57 L338.95,463.88 L339.76,471 L340.56,476.76 L341.37,481.01 L342.18,483.64 L342.99,484.58" />
<path d="M341.5,321.48 L342.29,322.63 L343.09,326.05 L343.88,331.67 L344.67,339.33 L345.46,348.86 L346.26,360.01 L347.05,372.52 L347.84,386.07 L348.63,400.34 L349.43,414.96 L350.22,429.58 L351.01,443.85 L351.8,457.4 L352.6,469.91 L353.39,481.06 L354.18,490.59 L354.97,498.26 L355.77,503.87 L356.56,507.3 L357.35,508.45" />
<path d="M345.4,321.48 L346.19,322.64 L346.99,326.06 L347.78,331.67 L348.57,339.34 L349.36,348.87 L350.16,360.02 L350.95,372.53 L351.74,386.08 L352.53,400.34 L353.33,414.97 L354.12,429.59 L354.91,443.86 L355.7,457.41 L356.5,469.92 L357.29,481.07 L358.08,490.6 L358.87,498.27 L359.67,503.88 L360.46,507.31 L361.25,508.46" />
<path d="M360.06,347.04 L360.87,347.79 L361.68,350.2 L362.49,354.22 L363.29,359.74 L364.1,366.64 L364.91,374.75 L365.72,383.88 L366.52,393.79 L367.33,404.25 L368.14,415 L368.95,425.78 L369.75,436.32 L370.56,446.35 L371.37,455.65 L372.18,463.96 L372.98,471.08 L373.79,476.84 L374.6,481.09 L375.41,483.73 L376.21,484.67" />
<path d="M374.73,321.53 L375.52,322.68 L376.31,326.11 L377.1,331.72 L377.9,339.39 L378.69,348.92 L379.48,360.07 L380.27,372.58 L381.06,386.14 L381.86,400.4 L382.65,415.03 L383.44,429.66 L384.24,443.92 L385.03,457.48 L385.82,469.99 L386.61,481.15 L387.4,490.68 L388.2,498.35 L388.99,503.96 L389.78,507.39 L390.57,508.54" />
<path d="M378.62,321.53 L379.42,322.69 L380.21,326.11 L381,331.73 L381.8,339.39 L382.59,348.92 L383.38,360.08 L384.17,372.59 L384.96,386.14 L385.76,400.41 L386.55,415.04 L387.34,429.67 L388.13,443.93 L388.93,457.49 L389.72,470 L390.51,481.16 L391.3,490.69 L392.1,498.36 L392.89,503.97 L393.68,507.4 L394.47,508.55" />
<path d="M393.29,347.09 L394.1,347.84 L394.9,350.26 L395.71,354.28 L396.52,359.8 L397.33,366.7 L398.13,374.81 L398.94,383.94 L399.75,393.85 L400.56,404.32 L401.36,415.07 L402.17,425.85 L402.98,436.39 L403.79,446.43 L404.59,455.73 L405.4,464.04 L406.21,471.17 L407.01,476.93 L407.82,481.18 L408.63,483.81 L409.44,484.75" />
<path d="M407.95,321.58 L408.74,322.73 L409.53,326.16 L410.33,331.77 L411.12,339.44 L411.91,348.97 L412.7,360.13 L413.5,372.64 L414.29,386.2 L415.08,400.47 L415.88,415.1 L416.67,429.73 L417.46,444 L418.25,457.56 L419.05,470.07 L419.84,481.23 L420.63,490.76 L421.42,498.43 L422.22,504.05 L423.01,507.48 L423.8,508.63" />
<path d="M411.85,321.58 L412.64,322.74 L413.43,326.16 L414.23,331.78 L415.02,339.45 L415.81,348.98 L416.6,360.14 L417.4,372.65 L418.19,386.21 L418.98,400.48 L419.77,415.11 L420.57,429.74 L421.36,444.01 L422.15,457.57 L422.94,470.08 L423.74,481.24 L424.53,490.77 L425.32,498.44 L426.12,504.06 L426.91,507.49 L427.7,508.64" />
<path d="M426.51,347.15 L427.32,347.9 L428.13,350.31 L428.94,354.33 L429.74,359.86 L430.55,366.76 L431.36,374.88 L432.17,384 L432.97,393.92 L433.78,404.38 L434.59,415.14 L435.39,425.92 L436.2,436.47 L437.01,446.51 L437.82,455.8 L438.62,464.12 L439.43,471.25 L440.24,477.01 L441.05,481.26 L441.86,483.9 L442.66,484.84" />
<path d="M441.18,321.63 L441.97,322.78 L442.76,326.21 L443.55,331.82 L444.35,339.49 L445.14,349.03 L445.93,360.19 L446.72,372.7 L447.52,386.26 L448.31,400.54 L449.1,415.17 L449.89,429.8 L450.69,444.08 L451.48,457.64 L452.27,470.15 L453.06,481.32 L453.86,490.85 L454.65,498.52 L455.44,504.14 L456.23,507.57 L457.03,508.72" />
<path d="M445.07,321.63 L445.87,322.79 L446.66,326.21 L447.45,331.83 L448.25,339.5 L449.04,349.03 L449.83,360.2 L450.62,372.71 L451.42,386.27 L452.21,400.55 L453,415.18 L453.79,429.81 L454.58,444.09 L455.38,457.65 L456.17,470.16 L456.96,481.33 L457.75,490.86 L458.55,498.53 L459.34,504.15 L460.13,507.58 L460.93,508.73" />
<path d="M459.74,347.2 L460.55,347.96 L461.35,350.37 L462.16,354.39 L462.97,359.92 L463.78,366.82 L464.58,374.94 L465.39,384.07 L466.2,393.99 L467.01,404.45 L467.81,415.21 L468.62,426 L469.43,436.54 L470.24,446.59 L471.04,455.88 L471.85,464.2 L472.66,471.33 L473.47,477.1 L474.27,481.35 L475.08,483.98 L475.89,484.93" />
<path d="M474.4,321.68 L475.19,322.83 L475.99,326.26 L476.78,331.88 L477.57,339.55 L478.36,349.08 L479.16,360.25 L479.95,372.77 L480.74,386.33 L481.53,400.6 L482.33,415.24 L483.12,429.88 L483.91,444.15 L484.7,457.72 L485.5,470.24 L486.29,481.4 L487.08,490.94 L487.87,498.61 L488.67,504.23 L489.46,507.66 L490.25,508.81" />
<path d="M478.3,321.68 L479.09,322.84 L479.88,326.26 L480.68,331.88 L481.47,339.55 L482.26,349.09 L483.06,360.25 L483.85,372.77 L484.64,386.34 L485.43,400.61 L486.23,415.25 L487.02,429.89 L487.81,444.16 L488.6,457.73 L489.39,470.25 L490.19,481.41 L490.98,490.95 L491.77,498.62 L492.56,504.24 L493.36,507.67 L494.15,508.83" />
<path d="M492.96,347.26 L493.77,348.01 L494.58,350.43 L495.39,354.45 L496.19,359.98 L497,366.88 L497.81,375 L498.62,384.13 L499.42,394.05 L500.23,404.52 L501.04,415.28 L501.85,426.07 L502.65,436.62 L503.46,446.66 L504.27,455.96 L505.08,464.28 L505.88,471.41 L506.69,477.18 L507.5,481.43 L508.31,484.07 L509.11,485.01" />
<path d="M507.63,321.73 L508.42,322.88 L509.21,326.31 L510,331.93 L510.8,339.6 L511.59,349.14 L512.38,360.31 L513.17,372.83 L513.97,386.39 L514.76,400.67 L515.55,415.31 L516.34,429.95 L517.13,444.23 L517.93,457.8 L518.72,470.32 L519.51,481.49 L520.3,491.03 L521.1,498.7 L521.89,504.32 L522.68,507.75 L523.47,508.91" />
<path d="M511.53,321.73 L512.32,322.89 L513.11,326.32 L513.9,331.94 L514.7,339.61 L515.49,349.15 L516.28,360.31 L517.07,372.83 L517.87,386.4 L518.66,400.68 L519.45,415.32 L520.24,429.96 L521.03,444.24 L521.83,457.81 L522.62,470.33 L523.41,481.5 L524.21,491.04 L525,498.71 L525.79,504.33 L526.58,507.76 L527.38,508.92" />
<path d="M526.19,347.31 L527,348.07 L527.8,350.48 L528.61,354.5 L529.42,360.03 L530.22,366.94 L531.03,375.06 L531.84,384.19 L532.65,394.12 L533.45,404.59 L534.26,415.35 L535.07,426.14 L535.88,436.69 L536.68,446.74 L537.49,456.04 L538.3,464.36 L539.11,471.5 L539.91,477.26 L540.72,481.52 L541.53,484.15 L542.34,485.1" />
<path d="M540.85,321.78 L541.64,322.93 L542.44,326.36 L543.23,331.98 L544.02,339.66 L544.81,349.2 L545.61,360.36 L546.4,372.89 L547.19,386.46 L547.98,400.74 L548.78,415.38 L549.57,430.03 L550.36,444.31 L551.15,457.88 L551.95,470.4 L552.74,481.57 L553.53,491.11 L554.32,498.79 L555.12,504.41 L555.91,507.84 L556.7,509" />
<path d="M544.75,321.78 L545.54,322.94 L546.34,326.37 L547.13,331.99 L547.92,339.66 L548.71,349.2 L549.51,360.37 L550.3,372.89 L551.09,386.46 L551.88,400.75 L552.68,415.39 L553.47,430.03 L554.26,444.32 L555.05,457.89 L555.85,470.41 L556.64,481.58 L557.43,491.12 L558.22,498.8 L559.02,504.42 L559.81,507.85 L560.6,509.01" />
<path d="M559.41,347.37 L560.22,348.12 L561.03,350.54 L561.84,354.56 L562.64,360.09 L563.45,367 L564.26,375.12 L565.07,384.26 L565.87,394.18 L566.68,404.66 L567.49,415.42 L568.29,426.21 L569.1,436.77 L569.91,446.82 L570.72,456.12 L571.52,464.45 L572.33,471.58 L573.14,477.35 L573.95,481.6 L574.75,484.24 L575.56,485.18" />
<path d="M574.07,321.83 L574.87,322.98 L575.66,326.41 L576.45,332.03 L577.24,339.71 L578.04,349.25 L578.83,360.42 L579.62,372.95 L580.41,386.52 L581.21,400.81 L582,415.45 L582.79,430.1 L583.58,444.38 L584.38,457.96 L585.17,470.49 L585.96,481.66 L586.75,491.2 L587.55,498.88 L588.34,504.5 L589.13,507.93 L589.92,509.09" />
<path d="M577.98,321.83 L578.77,322.99 L579.56,326.42 L580.35,332.04 L581.14,339.72 L581.94,349.26 L582.73,360.43 L583.52,372.96 L584.32,386.53 L585.11,400.81 L585.9,415.46 L586.69,430.11 L587.49,444.39 L588.28,457.97 L589.07,470.49 L589.86,481.67 L590.66,491.21 L591.45,498.89 L592.24,504.51 L593.03,507.94 L593.83,509.1" />
<path d="M592.64,347.42 L593.44,348.18 L594.25,350.6 L595.06,354.62 L595.87,360.15 L596.67,367.06 L597.48,375.18 L598.29,384.32 L599.1,394.25 L599.9,404.72 L600.71,415.49 L601.52,426.29 L602.33,436.84 L603.13,446.9 L603.94,456.2 L604.75,464.53 L605.56,471.66 L606.36,477.43 L607.17,481.69 L607.98,484.32 L608.79,485.27" />
<path d="M607.3,321.88 L608.09,323.03 L608.88,326.46 L609.68,332.09 L610.47,339.76 L611.26,349.31 L612.05,360.48 L612.85,373.01 L613.64,386.59 L614.43,400.87 L615.22,415.52 L616.02,430.17 L616.81,444.46 L617.6,458.04 L618.39,470.57 L619.19,481.74 L619.98,491.29 L620.77,498.97 L621.56,504.59 L622.36,508.02 L623.15,509.18" />
<path d="M611.2,321.88 L611.99,323.04 L612.79,326.47 L613.58,332.09 L614.37,339.77 L615.16,349.31 L615.96,360.49 L616.75,373.02 L617.54,386.59 L618.33,400.88 L619.12,415.53 L619.92,430.18 L620.71,444.47 L621.5,458.05 L622.3,470.58 L623.09,481.75 L623.88,491.3 L624.67,498.98 L625.47,504.6 L626.26,508.03 L627.05,509.19" />
<path d="M625.86,347.48 L626.67,348.24 L627.48,350.65 L628.28,354.68 L629.09,360.21 L629.9,367.12 L630.71,375.25 L631.51,384.38 L632.32,394.31 L633.13,404.79 L633.94,415.56 L634.74,426.36 L635.55,436.92 L636.36,446.97 L637.17,456.28 L637.97,464.61 L638.78,471.75 L639.59,477.52 L640.4,481.77 L641.2,484.41 L642.01,485.36" />
<path d="M640.52,321.93 L641.32,323.08 L642.11,326.51 L642.9,332.14 L643.69,339.82 L644.49,349.36 L645.28,360.54 L646.07,373.07 L646.87,386.65 L647.66,400.94 L648.45,415.59 L649.24,430.25 L650.03,444.54 L650.83,458.12 L651.62,470.65 L652.41,481.83 L653.21,491.37 L654,499.06 L654.79,504.68 L655.58,508.11 L656.38,509.27" />
<path d="M644.43,321.93 L645.22,323.09 L646.01,326.52 L646.8,332.14 L647.6,339.82 L648.39,349.37 L649.18,360.55 L649.97,373.08 L650.77,386.66 L651.56,400.95 L652.35,415.6 L653.14,430.25 L653.94,444.55 L654.73,458.13 L655.52,470.66 L656.31,481.84 L657.11,491.38 L657.9,499.07 L658.69,504.69 L659.48,508.13 L660.28,509.28" />
<path d="M659.09,347.54 L659.89,348.29 L660.7,350.71 L661.51,354.73 L662.32,360.27 L663.12,367.18 L663.93,375.31 L664.74,384.45 L665.55,394.38 L666.36,404.86 L667.16,415.63 L667.97,426.43 L668.78,436.99 L669.58,447.05 L670.39,456.36 L671.2,464.69 L672.01,471.83 L672.81,477.6 L673.62,481.86 L674.43,484.5 L675.24,485.44" />
<path d="M673.75,321.98 L674.54,323.13 L675.34,326.56 L676.13,332.19 L676.92,339.87 L677.71,349.42 L678.5,360.6 L679.3,373.13 L680.09,386.71 L680.88,401.01 L681.67,415.66 L682.47,430.32 L683.26,444.62 L684.05,458.2 L684.84,470.73 L685.64,481.91 L686.43,491.46 L687.22,499.14 L688.01,504.77 L688.81,508.21 L689.6,509.36" />
<path d="M677.65,321.98 L678.44,323.14 L679.24,326.57 L680.03,332.2 L680.82,339.88 L681.61,349.43 L682.41,360.6 L683.2,373.14 L683.99,386.72 L684.78,401.02 L685.58,415.67 L686.37,430.33 L687.16,444.62 L687.95,458.21 L688.75,470.74 L689.54,481.92 L690.33,491.47 L691.12,499.15 L691.91,504.78 L692.71,508.22 L693.5,509.37" />
<path d="M692.31,347.59 L693.12,348.35 L693.93,350.76 L694.74,354.79 L695.54,360.33 L696.35,367.24 L697.16,375.37 L697.96,384.51 L698.77,394.45 L699.58,404.93 L700.39,415.7 L701.19,426.51 L702,437.07 L702.81,447.13 L703.62,456.44 L704.42,464.77 L705.23,471.91 L706.04,477.68 L706.85,481.94 L707.65,484.58 L708.46,485.53" />
<path d="M706.98,322.03 L707.77,323.18 L708.56,326.62 L709.35,332.24 L710.14,339.93 L710.94,349.48 L711.73,360.66 L712.52,373.19 L713.32,386.78 L714.11,401.08 L714.9,415.73 L715.69,430.39 L716.49,444.69 L717.28,458.28 L718.07,470.82 L718.86,482 L719.66,491.55 L720.45,499.23 L721.24,504.86 L722.03,508.3 L722.83,509.45" />
<path d="M710.88,322.03 L711.67,323.19 L712.46,326.62 L713.25,332.25 L714.05,339.93 L714.84,349.48 L715.63,360.66 L716.42,373.2 L717.22,386.79 L718.01,401.08 L718.8,415.74 L719.59,430.4 L720.39,444.7 L721.18,458.29 L721.97,470.83 L722.76,482.01 L723.56,491.56 L724.35,499.24 L725.14,504.87 L725.93,508.31 L726.73,509.46" />
<path d="M725.54,347.65 L726.35,348.4 L727.15,350.82 L727.96,354.85 L728.77,360.38 L729.58,367.3 L730.38,375.43 L731.19,384.58 L732,394.51 L732.81,405 L733.61,415.77 L734.42,426.58 L735.23,437.14 L736.03,447.21 L736.84,456.52 L737.65,464.85 L738.46,471.99 L739.26,477.77 L740.07,482.03 L740.88,484.67 L741.69,485.61" />
<path d="M740.2,322.08 L740.99,323.23 L741.79,326.67 L742.58,332.29 L743.37,339.98 L744.16,349.53 L744.96,360.71 L745.75,373.25 L746.54,386.84 L747.33,401.14 L748.12,415.81 L748.92,430.47 L749.71,444.77 L750.5,458.36 L751.29,470.9 L752.09,482.08 L752.88,491.64 L753.67,499.32 L754.46,504.95 L755.26,508.39 L756.05,509.54" />
<path d="M744.1,322.08 L744.89,323.24 L745.69,326.67 L746.48,332.3 L747.27,339.99 L748.06,349.54 L748.86,360.72 L749.65,373.26 L750.44,386.85 L751.23,401.15 L752.03,415.81 L752.82,430.48 L753.61,444.78 L754.4,458.37 L755.2,470.91 L755.99,482.09 L756.78,491.65 L757.57,499.33 L758.37,504.96 L759.16,508.4 L759.95,509.55" />
<path d="M758.76,347.7 L759.57,348.46 L760.38,350.88 L761.19,354.9 L761.99,360.44 L762.8,367.36 L763.61,375.49 L764.41,384.64 L765.22,394.58 L766.03,405.07 L766.84,415.85 L767.64,426.65 L768.45,437.22 L769.26,447.28 L770.07,456.6 L770.88,464.93 L771.68,472.08 L772.49,477.85 L773.3,482.11 L774.1,484.75 L774.91,485.7" />
<path d="M773.42,322.13 L774.22,323.28 L775.01,326.72 L775.8,332.35 L776.59,340.03 L777.39,349.59 L778.18,360.77 L778.97,373.32 L779.76,386.91 L780.56,401.21 L781.35,415.88 L782.14,430.54 L782.93,444.85 L783.73,458.44 L784.52,470.98 L785.31,482.17 L786.1,491.72 L786.9,499.41 L787.69,505.04 L788.48,508.48 L789.27,509.63" />
<path d="M777.33,322.13 L778.12,323.29 L778.91,326.72 L779.7,332.35 L780.5,340.04 L781.29,349.59 L782.08,360.78 L782.87,373.32 L783.66,386.91 L784.46,401.22 L785.25,415.88 L786.04,430.55 L786.84,444.85 L787.63,458.45 L788.42,470.99 L789.21,482.18 L790,491.73 L790.8,499.42 L791.59,505.05 L792.38,508.49 L793.17,509.64" />
<path d="M791.99,347.76 L792.79,348.51 L793.6,350.93 L794.41,354.96 L795.22,360.5 L796.02,367.42 L796.83,375.56 L797.64,384.7 L798.45,394.64 L799.25,405.13 L800.06,415.92 L800.87,426.72 L801.68,437.29 L802.48,447.36 L803.29,456.68 L804.1,465.01 L804.91,472.16 L805.71,477.94 L806.52,482.2 L807.33,484.84 L808.14,485.78" />
<path d="M806.65,322.18 L807.44,323.33 L808.24,326.77 L809.03,332.4 L809.82,340.09 L810.61,349.64 L811.4,360.83 L812.2,373.38 L812.99,386.97 L813.78,401.28 L814.58,415.95 L815.37,430.61 L816.16,444.92 L816.95,458.52 L817.75,471.06 L818.54,482.25 L819.33,491.81 L820.12,499.5 L820.91,505.13 L821.71,508.57 L822.5,509.73" />
<path d="M810.55,322.18 L811.34,323.34 L812.14,326.77 L812.93,332.41 L813.72,340.09 L814.51,349.65 L815.31,360.84 L816.1,373.38 L816.89,386.98 L817.68,401.29 L818.48,415.95 L819.27,430.62 L820.06,444.93 L820.85,458.53 L821.65,471.07 L822.44,482.26 L823.23,491.82 L824.02,499.51 L824.82,505.14 L825.61,508.58 L826.4,509.74" />
<path d="M825.21,347.81 L826.02,348.57 L826.83,350.99 L827.63,355.02 L828.44,360.56 L829.25,367.48 L830.06,375.62 L830.87,384.77 L831.67,394.71 L832.48,405.2 L833.29,415.99 L834.09,426.8 L834.9,437.37 L835.71,447.44 L836.52,456.76 L837.32,465.1 L838.13,472.24 L838.94,478.02 L839.75,482.28 L840.55,484.92 L841.36,485.87" />
<path d="M839.88,322.23 L840.67,323.38 L841.46,326.82 L842.25,332.45 L843.04,340.14 L843.84,349.7 L844.63,360.89 L845.42,373.44 L846.21,387.03 L847.01,401.35 L847.8,416.02 L848.59,430.69 L849.38,445 L850.18,458.6 L850.97,471.15 L851.76,482.34 L852.55,491.9 L853.35,499.59 L854.14,505.22 L854.93,508.66 L855.72,509.82" />
<path d="M843.78,322.23 L844.57,323.39 L845.36,326.83 L846.15,332.46 L846.95,340.15 L847.74,349.71 L848.53,360.9 L849.32,373.45 L850.12,387.04 L850.91,401.35 L851.7,416.03 L852.49,430.7 L853.29,445.01 L854.08,458.61 L854.87,471.16 L855.66,482.35 L856.46,491.91 L857.25,499.6 L858.04,505.23 L858.83,508.67 L859.62,509.83" />
<path d="M858.44,347.87 L859.25,348.63 L860.05,351.05 L860.86,355.08 L861.67,360.62 L862.47,367.54 L863.28,375.68 L864.09,384.83 L864.9,394.78 L865.7,405.27 L866.51,416.06 L867.32,426.87 L868.13,437.44 L868.93,447.52 L869.74,456.84 L870.55,465.18 L871.36,472.33 L872.16,478.11 L872.97,482.37 L873.78,485.01 L874.59,485.96" />
<path d="M873.1,322.28 L873.89,323.43 L874.69,326.87 L875.48,332.5 L876.27,340.2 L877.06,349.76 L877.86,360.95 L878.65,373.5 L879.44,387.1 L880.23,401.41 L881.03,416.09 L881.82,430.76 L882.61,445.08 L883.4,458.68 L884.2,471.23 L884.99,482.42 L885.78,491.98 L886.57,499.68 L887.37,505.31 L888.16,508.75 L888.95,509.91" />
<path d="M877,322.28 L877.79,323.44 L878.59,326.88 L879.38,332.51 L880.17,340.2 L880.96,349.76 L881.76,360.96 L882.55,373.51 L883.34,387.11 L884.13,401.42 L884.93,416.1 L885.72,430.77 L886.51,445.09 L887.3,458.69 L888.1,471.24 L888.89,482.43 L889.68,491.99 L890.47,499.69 L891.27,505.32 L892.06,508.76 L892.85,509.92" />
<path d="M891.66,347.92 L892.47,348.68 L893.28,351.1 L894.09,355.13 L894.89,360.68 L895.7,367.6 L896.51,375.74 L897.32,384.89 L898.12,394.84 L898.93,405.34 L899.74,416.13 L900,419.64" />
<path d="M127.69,346.65 L128.45,347.4 L129.22,349.81 L129.99,353.82 L130.76,359.33 L131.52,366.22 L132.29,374.32 L133.06,383.43 L133.83,393.33 L134.59,403.77 L135.36,414.5 L136.13,425.27 L136.9,435.79 L137.66,445.81 L138.43,455.09 L139.2,463.39 L139.97,470.5 L140.73,476.25 L141.5,480.5 L142.27,483.12 L143.04,484.07" />
<path d="M124.4,342 L126,380 L127.9,415.5 L129.8,455 L132.2,502" />
<path d="M1057,283.0 L1101.0,283.0 A32.0,32.0 0 0 1 1133.0,315.0 L1133.0,403.0"/>
<path d="M1057,549.0 L1101.0,549.0 A32.0,32.0 0 0 0 1133.0,517.0 L1133.0,429.0"/>
<path d="M1100,283 L1100,403" />
<path d="M1100,429 L1100,549" />
<path d="M1133,403 L1093,403 L1093,429 L1133,429" />
<circle cx="1749.5" cy="415.5" r="133"/>
<path d="M1650.28,403 A100,100 0 0 1 1848.72,403"/>
<path d="M1650.42,429 A100,100 0 0 0 1848.58,429"/>
<path d="M1749.5,229.5 L1741.69,216.65 L1734.91,230.07 L1726.11,217.88 L1720.4,231.79 L1710.68,220.32 L1706.08,234.64 L1695.48,223.97 L1692.02,238.6 L1680.62,228.8 L1678.32,243.66 L1666.19,234.78 L1665.06,249.77 L1652.26,241.87 L1652.32,256.91 L1638.94,250.04 L1640.17,265.02 L1626.3,259.22 L1628.7,274.06 L1614.42,269.37 L1617.98,283.98 L1603.37,280.42 L1608.06,294.7 L1593.22,292.3 L1599.02,306.17 L1584.04,304.94 L1590.91,318.32 L1575.87,318.26 L1583.77,331.06 L1568.78,332.19 L1577.66,344.32 L1562.8,346.62 L1572.6,358.02 L1557.97,361.48 L1568.64,372.08 L1554.32,376.68 L1565.79,386.4 L1551.88,392.11 L1564.07,400.91 L1550.65,407.69 L1563.5,415.5 L1550.65,423.31 L1564.07,430.09 L1551.88,438.89 L1565.79,444.6 L1554.32,454.32 L1568.64,458.92 L1557.97,469.52 L1572.6,472.98 L1562.8,484.38 L1577.66,486.68 L1568.78,498.81 L1583.77,499.94 L1575.87,512.74 L1590.91,512.68 L1584.04,526.06 L1599.02,524.83 L1593.22,538.7 L1608.06,536.3 L1603.37,550.58 L1617.98,547.02 L1614.42,561.63 L1628.7,556.94 L1626.3,571.78 L1640.17,565.98 L1638.94,580.96 L1652.32,574.09 L1652.26,589.13 L1665.06,581.23 L1666.19,596.22 L1678.32,587.34 L1680.62,602.2 L1692.02,592.4 L1695.48,607.03 L1706.08,596.36 L1710.68,610.68 L1720.4,599.21 L1726.11,613.12 L1734.91,600.93 L1741.69,614.35 L1749.5,601.5 L1757.31,614.35 L1764.09,600.93 L1772.89,613.12 L1778.6,599.21 L1788.32,610.68 L1792.92,596.36 L1803.52,607.03 L1806.98,592.4 L1818.38,602.2 L1820.68,587.34 L1832.81,596.22 L1833.94,581.23 L1846.74,589.13 L1846.68,574.09 L1860.06,580.96 L1858.83,565.98 L1872.7,571.78 L1870.3,556.94 L1884.58,561.63 L1881.02,547.02 L1895.63,550.58 L1890.94,536.3 L1905.78,538.7 L1899.98,524.83 L1914.96,526.06 L1908.09,512.68 L1923.13,512.74 L1915.23,499.94 L1930.22,498.81 L1921.34,486.68 L1936.2,484.38 L1926.4,472.98 L1941.03,469.52 L1930.36,458.92 L1944.68,454.32 L1933.21,444.6 L1947.12,438.89 L1934.93,430.09 L1948.35,423.31 L1935.5,415.5 L1948.35,407.69 L1934.93,400.91 L1947.12,392.11 L1933.21,386.4 L1944.68,376.68 L1930.36,372.08 L1941.03,361.48 L1926.4,358.02 L1936.2,346.62 L1921.34,344.32 L1930.22,332.19 L1915.23,331.06 L1923.13,318.26 L1908.09,318.32 L1914.96,304.94 L1899.98,306.17 L1905.78,292.3 L1890.94,294.7 L1895.63,280.42 L1881.02,283.98 L1884.58,269.37 L1870.3,274.06 L1872.7,259.22 L1858.83,265.02 L1860.06,250.04 L1846.68,256.91 L1846.74,241.87 L1833.94,249.77 L1832.81,234.78 L1820.68,243.66 L1818.38,228.8 L1806.98,238.6 L1803.52,223.97 L1792.92,234.64 L1788.32,220.32 L1778.6,231.79 L1772.89,217.88 L1764.09,230.07 L1757.31,216.65 Z" stroke-linejoin="miter"/>
<path d="M1617.14,403 L1881.86,403" />
<path d="M1617.14,429 L1881.86,429" />
<path d="M900,121 L900,200" />
<path d="M1056,121 L1056,200" />
<path d="M900,136.5 L936,136.5" />
<path d="M1019.5,136.5 L1056,136.5" />
<path d="M900,136.5 L934,141.7 L934,131.3 Z" fill="#000"/>
<path d="M1056.5,136.5 L1022.5,131.3 L1022.5,141.7 Z" fill="#000"/>
<path d="M103,467 L103,722.4" />
<path d="M900,630 L900,722" />
<path d="M103,707 L481.6,707" />
<path d="M522,707 L900,707" />
<path d="M103,707 L136.5,712.2 L136.5,701.8 Z" fill="#000"/>
<path d="M900,707 L866.5,701.8 L866.5,712.2 Z" fill="#000"/>
<path d="M1115,283 L1342,283" />
<path d="M1115.5,549 L1342,549" />
<path d="M1326,283 L1326,399.6" />
<path d="M1326,461 L1326,549" />
<path d="M1326,283 L1320.8,316.5 L1331.2,316.5 Z" fill="#000"/>
<path d="M1326,549 L1331.2,515 L1320.8,515 Z" fill="#000"/>
<path d="M1148,403 L1201,403" />
<path d="M1148,429 L1201,429" />
<path d="M1220.5,336 L1187,336 L1187,402" />
<path d="M1187,402 L1192.2,368.5 L1181.8,368.5 Z" fill="#000"/>
<path d="M1187,430 L1187,495.5" />
<path d="M1187,430 L1181.8,462.5 L1192.2,462.5 Z" fill="#000"/>
<path d="M1601.31,549.06 L1976.4,211 L2010,211" />
<path d="M1897.69,281.94 L1869.33,300.5 L1876.29,308.23 Z" fill="#000"/>
<path d="M1601.31,549.06 L1629.67,530.5 L1622.71,522.77 Z" fill="#000"/>
</g>
<g stroke-width="1" transform="translate(0.5,0.5)">
<path d="M103,451.5 L103,377.6 L124.4,342 L127.7,346.65 L142.15,321.18 L146.05,321.18 L160.71,346.7 L175.38,321.23 L179.27,321.23 L193.94,346.76 L208.6,321.28 L212.5,321.28 L227.16,346.81 L241.83,321.33 L245.72,321.33 L260.39,346.87 L275.05,321.38 L278.95,321.38 L293.61,346.92 L308.28,321.43 L312.18,321.43 L326.84,346.98 L341.5,321.48 L345.4,321.48 L360.06,347.04 L374.73,321.53 L378.62,321.53 L393.29,347.09 L407.95,321.58 L411.85,321.58 L426.51,347.15 L441.18,321.63 L445.07,321.63 L459.74,347.2 L474.4,321.68 L478.3,321.68 L492.96,347.26 L507.63,321.73 L511.53,321.73 L526.19,347.31 L540.85,321.78 L544.75,321.78 L559.41,347.37 L574.07,321.83 L577.98,321.83 L592.64,347.42 L607.3,321.88 L611.2,321.88 L625.86,347.48 L640.52,321.93 L644.43,321.93 L659.09,347.54 L673.75,321.98 L677.65,321.98 L692.31,347.59 L706.98,322.03 L710.88,322.03 L725.54,347.65 L740.2,322.08 L744.1,322.08 L758.76,347.7 L773.42,322.13 L777.33,322.13 L791.99,347.76 L806.65,322.18 L810.55,322.18 L825.21,347.81 L839.88,322.23 L843.78,322.23 L858.44,347.87 L873.1,322.28 L877,322.28 L891.66,347.92 L900,333.37" />
<path d="M103,451.5 L132.2,502 L143.04,484.07 L158,507.91 L161.9,507.91 L176.86,484.15 L191.22,508 L195.12,508 L210.09,484.24 L224.45,508.09 L228.35,508.09 L243.31,484.32 L257.68,508.18 L261.57,508.18 L276.54,484.41 L290.9,508.27 L294.8,508.27 L309.76,484.5 L324.12,508.37 L328.02,508.37 L342.99,484.58 L357.35,508.46 L361.25,508.46 L376.21,484.67 L390.57,508.55 L394.47,508.55 L409.44,484.75 L423.8,508.64 L427.7,508.64 L442.66,484.84 L457.03,508.73 L460.93,508.73 L475.89,484.93 L490.25,508.82 L494.15,508.82 L509.11,485.01 L523.47,508.91 L527.38,508.91 L542.34,485.1 L556.7,509 L560.6,509 L575.56,485.18 L589.92,509.09 L593.83,509.09 L608.79,485.27 L623.15,509.18 L627.05,509.18 L642.01,485.35 L656.38,509.28 L660.28,509.28 L675.24,485.44 L689.6,509.37 L693.5,509.37 L708.46,485.53 L722.83,509.46 L726.73,509.46 L741.69,485.61 L756.05,509.55 L759.95,509.55 L774.91,485.7 L789.27,509.64 L793.17,509.64 L808.14,485.78 L822.5,509.73 L826.4,509.73 L841.36,485.87 L855.72,509.82 L859.62,509.82 L874.59,485.95 L888.95,509.91 L892.85,509.91 L900,498.51" />
<path d="M142.15,321.18 L142.94,322.33 L143.74,325.75 L144.53,331.35 L145.32,339.01 L146.11,348.52 L146.91,359.66 L147.7,372.15 L148.49,385.69 L149.28,399.93 L150.07,414.54 L150.87,429.14 L151.66,443.39 L152.45,456.92 L153.25,469.41 L154.04,480.55 L154.83,490.07 L155.62,497.72 L156.41,503.33 L157.21,506.75 L158,507.9" />
<path d="M146.05,321.18 L146.84,322.33 L147.63,325.75 L148.43,331.36 L149.22,339.02 L150.01,348.53 L150.8,359.67 L151.6,372.16 L152.39,385.69 L153.18,399.94 L153.97,414.54 L154.77,429.15 L155.56,443.39 L156.35,456.93 L157.14,469.42 L157.94,480.56 L158.73,490.08 L159.52,497.73 L160.31,503.34 L161.11,506.76 L161.9,507.92" />
<path d="M160.71,346.7 L161.52,347.45 L162.33,349.86 L163.14,353.87 L163.94,359.39 L164.75,366.28 L165.56,374.38 L166.37,383.49 L167.17,393.39 L167.98,403.84 L168.79,414.58 L169.59,425.34 L170.4,435.86 L171.21,445.89 L172.02,455.17 L172.83,463.47 L173.63,470.59 L174.44,476.34 L175.25,480.58 L176.06,483.21 L176.86,484.15" />
<path d="M175.38,321.23 L176.17,322.38 L176.96,325.8 L177.75,331.41 L178.54,339.06 L179.34,348.58 L180.13,359.72 L180.92,372.21 L181.72,385.75 L182.51,400 L183.3,414.61 L184.09,429.21 L184.88,443.46 L185.68,457 L186.47,469.49 L187.26,480.64 L188.06,490.15 L188.85,497.81 L189.64,503.42 L190.43,506.84 L191.22,508" />
<path d="M179.27,321.23 L180.07,322.38 L180.86,325.81 L181.65,331.41 L182.44,339.07 L183.24,348.59 L184.03,359.73 L184.82,372.22 L185.61,385.76 L186.41,400.01 L187.2,414.61 L187.99,429.22 L188.78,443.47 L189.58,457.01 L190.37,469.5 L191.16,480.65 L191.95,490.16 L192.75,497.82 L193.54,503.43 L194.33,506.85 L195.12,508.01" />
<path d="M193.94,346.76 L194.75,347.51 L195.55,349.92 L196.36,353.93 L197.17,359.45 L197.97,366.34 L198.78,374.44 L199.59,383.56 L200.4,393.46 L201.21,403.91 L202.01,414.65 L202.82,425.41 L203.63,435.94 L204.44,445.97 L205.24,455.25 L206.05,463.55 L206.86,470.67 L207.66,476.42 L208.47,480.67 L209.28,483.3 L210.09,484.24" />
<path d="M208.6,321.28 L209.39,322.43 L210.19,325.85 L210.98,331.46 L211.77,339.12 L212.56,348.64 L213.36,359.78 L214.15,372.28 L214.94,385.82 L215.73,400.07 L216.53,414.68 L217.32,429.29 L218.11,443.54 L218.9,457.08 L219.69,469.58 L220.49,480.72 L221.28,490.24 L222.07,497.9 L222.86,503.51 L223.66,506.93 L224.45,508.09" />
<path d="M212.5,321.28 L213.29,322.43 L214.09,325.86 L214.88,331.47 L215.67,339.12 L216.46,348.64 L217.25,359.79 L218.05,372.28 L218.84,385.82 L219.63,400.07 L220.42,414.69 L221.22,429.3 L222.01,443.55 L222.8,457.09 L223.59,469.59 L224.39,480.73 L225.18,490.25 L225.97,497.91 L226.76,503.52 L227.56,506.95 L228.35,508.1" />
<path d="M227.16,346.81 L227.97,347.57 L228.78,349.98 L229.59,353.99 L230.39,359.51 L231.2,366.4 L232.01,374.51 L232.82,383.62 L233.62,393.52 L234.43,403.98 L235.24,414.72 L236.05,425.48 L236.85,436.01 L237.66,446.04 L238.47,455.33 L239.28,463.63 L240.08,470.75 L240.89,476.51 L241.7,480.75 L242.5,483.38 L243.31,484.33" />
<path d="M241.83,321.33 L242.62,322.48 L243.41,325.9 L244.2,331.51 L245,339.17 L245.79,348.69 L246.58,359.84 L247.37,372.34 L248.17,385.88 L248.96,400.13 L249.75,414.75 L250.54,429.36 L251.34,443.62 L252.13,457.16 L252.92,469.66 L253.71,480.81 L254.51,490.33 L255.3,497.99 L256.09,503.6 L256.88,507.03 L257.68,508.18" />
<path d="M245.72,321.33 L246.52,322.48 L247.31,325.91 L248.1,331.52 L248.89,339.18 L249.69,348.7 L250.48,359.84 L251.27,372.34 L252.06,385.89 L252.86,400.14 L253.65,414.76 L254.44,429.37 L255.23,443.62 L256.03,457.17 L256.82,469.67 L257.61,480.82 L258.4,490.34 L259.2,498 L259.99,503.61 L260.78,507.04 L261.57,508.19" />
<path d="M260.39,346.87 L261.19,347.62 L262,350.03 L262.81,354.05 L263.62,359.57 L264.43,366.46 L265.23,374.57 L266.04,383.68 L266.85,393.59 L267.66,404.04 L268.46,414.79 L269.27,425.56 L270.08,436.09 L270.88,446.12 L271.69,455.41 L272.5,463.71 L273.31,470.83 L274.12,476.59 L274.92,480.84 L275.73,483.47 L276.54,484.41" />
<path d="M275.05,321.38 L275.84,322.53 L276.63,325.95 L277.43,331.56 L278.22,339.22 L279.01,348.75 L279.81,359.9 L280.6,372.4 L281.39,385.94 L282.18,400.2 L282.98,414.82 L283.77,429.44 L284.56,443.69 L285.35,457.24 L286.15,469.74 L286.94,480.89 L287.73,490.42 L288.52,498.08 L289.32,503.69 L290.11,507.12 L290.9,508.27" />
<path d="M278.95,321.38 L279.74,322.53 L280.53,325.96 L281.33,331.57 L282.12,339.23 L282.91,348.75 L283.7,359.9 L284.5,372.41 L285.29,385.95 L286.08,400.21 L286.88,414.83 L287.67,429.44 L288.46,443.7 L289.25,457.25 L290.05,469.75 L290.84,480.9 L291.63,490.43 L292.42,498.09 L293.22,503.7 L294.01,507.13 L294.8,508.28" />
<path d="M293.61,346.92 L294.42,347.68 L295.23,350.09 L296.04,354.1 L296.84,359.63 L297.65,366.52 L298.46,374.63 L299.27,383.75 L300.07,393.66 L300.88,404.11 L301.69,414.86 L302.5,425.63 L303.3,436.16 L304.11,446.2 L304.92,455.49 L305.73,463.8 L306.53,470.92 L307.34,476.68 L308.15,480.92 L308.96,483.55 L309.76,484.5" />
<path d="M308.28,321.43 L309.07,322.58 L309.86,326 L310.65,331.62 L311.45,339.28 L312.24,348.8 L313.03,359.95 L313.82,372.46 L314.62,386.01 L315.41,400.27 L316.2,414.89 L316.99,429.51 L317.79,443.77 L318.58,457.32 L319.37,469.82 L320.16,480.98 L320.95,490.5 L321.75,498.17 L322.54,503.78 L323.33,507.21 L324.12,508.36" />
<path d="M312.18,321.43 L312.97,322.58 L313.76,326.01 L314.55,331.62 L315.35,339.28 L316.14,348.81 L316.93,359.96 L317.72,372.47 L318.51,386.02 L319.31,400.28 L320.1,414.9 L320.89,429.52 L321.69,443.78 L322.48,457.33 L323.27,469.83 L324.06,480.99 L324.85,490.51 L325.65,498.18 L326.44,503.79 L327.23,507.22 L328.02,508.37" />
<path d="M326.84,346.98 L327.65,347.73 L328.45,350.15 L329.26,354.16 L330.07,359.68 L330.88,366.58 L331.68,374.69 L332.49,383.81 L333.3,393.72 L334.11,404.18 L334.91,414.93 L335.72,425.7 L336.53,436.24 L337.34,446.28 L338.14,455.57 L338.95,463.88 L339.76,471 L340.56,476.76 L341.37,481.01 L342.18,483.64 L342.99,484.58" />
<path d="M341.5,321.48 L342.29,322.63 L343.09,326.05 L343.88,331.67 L344.67,339.33 L345.46,348.86 L346.26,360.01 L347.05,372.52 L347.84,386.07 L348.63,400.34 L349.43,414.96 L350.22,429.58 L351.01,443.85 L351.8,457.4 L352.6,469.91 L353.39,481.06 L354.18,490.59 L354.97,498.26 L355.77,503.87 L356.56,507.3 L357.35,508.45" />
<path d="M345.4,321.48 L346.19,322.64 L346.99,326.06 L347.78,331.67 L348.57,339.34 L349.36,348.87 L350.16,360.02 L350.95,372.53 L351.74,386.08 L352.53,400.34 L353.33,414.97 L354.12,429.59 L354.91,443.86 L355.7,457.41 L356.5,469.92 L357.29,481.07 L358.08,490.6 L358.87,498.27 L359.67,503.88 L360.46,507.31 L361.25,508.46" />
<path d="M360.06,347.04 L360.87,347.79 L361.68,350.2 L362.49,354.22 L363.29,359.74 L364.1,366.64 L364.91,374.75 L365.72,383.88 L366.52,393.79 L367.33,404.25 L368.14,415 L368.95,425.78 L369.75,436.32 L370.56,446.35 L371.37,455.65 L372.18,463.96 L372.98,471.08 L373.79,476.84 L374.6,481.09 L375.41,483.73 L376.21,484.67" />
<path d="M374.73,321.53 L375.52,322.68 L376.31,326.11 L377.1,331.72 L377.9,339.39 L378.69,348.92 L379.48,360.07 L380.27,372.58 L381.06,386.14 L381.86,400.4 L382.65,415.03 L383.44,429.66 L384.24,443.92 L385.03,457.48 L385.82,469.99 L386.61,481.15 L387.4,490.68 L388.2,498.35 L388.99,503.96 L389.78,507.39 L390.57,508.54" />
<path d="M378.62,321.53 L379.42,322.69 L380.21,326.11 L381,331.73 L381.8,339.39 L382.59,348.92 L383.38,360.08 L384.17,372.59 L384.96,386.14 L385.76,400.41 L386.55,415.04 L387.34,429.67 L388.13,443.93 L388.93,457.49 L389.72,470 L390.51,481.16 L391.3,490.69 L392.1,498.36 L392.89,503.97 L393.68,507.4 L394.47,508.55" />
<path d="M393.29,347.09 L394.1,347.84 L394.9,350.26 L395.71,354.28 L396.52,359.8 L397.33,366.7 L398.13,374.81 L398.94,383.94 L399.75,393.85 L400.56,404.32 L401.36,415.07 L402.17,425.85 L402.98,436.39 L403.79,446.43 L404.59,455.73 L405.4,464.04 L406.21,471.17 L407.01,476.93 L407.82,481.18 L408.63,483.81 L409.44,484.75" />
<path d="M407.95,321.58 L408.74,322.73 L409.53,326.16 L410.33,331.77 L411.12,339.44 L411.91,348.97 L412.7,360.13 L413.5,372.64 L414.29,386.2 L415.08,400.47 L415.88,415.1 L416.67,429.73 L417.46,444 L418.25,457.56 L419.05,470.07 L419.84,481.23 L420.63,490.76 L421.42,498.43 L422.22,504.05 L423.01,507.48 L423.8,508.63" />
<path d="M411.85,321.58 L412.64,322.74 L413.43,326.16 L414.23,331.78 L415.02,339.45 L415.81,348.98 L416.6,360.14 L417.4,372.65 L418.19,386.21 L418.98,400.48 L419.77,415.11 L420.57,429.74 L421.36,444.01 L422.15,457.57 L422.94,470.08 L423.74,481.24 L424.53,490.77 L425.32,498.44 L426.12,504.06 L426.91,507.49 L427.7,508.64" />
<path d="M426.51,347.15 L427.32,347.9 L428.13,350.31 L428.94,354.33 L429.74,359.86 L430.55,366.76 L431.36,374.88 L432.17,384 L432.97,393.92 L433.78,404.38 L434.59,415.14 L435.39,425.92 L436.2,436.47 L437.01,446.51 L437.82,455.8 L438.62,464.12 L439.43,471.25 L440.24,477.01 L441.05,481.26 L441.86,483.9 L442.66,484.84" />
<path d="M441.18,321.63 L441.97,322.78 L442.76,326.21 L443.55,331.82 L444.35,339.49 L445.14,349.03 L445.93,360.19 L446.72,372.7 L447.52,386.26 L448.31,400.54 L449.1,415.17 L449.89,429.8 L450.69,444.08 L451.48,457.64 L452.27,470.15 L453.06,481.32 L453.86,490.85 L454.65,498.52 L455.44,504.14 L456.23,507.57 L457.03,508.72" />
<path d="M445.07,321.63 L445.87,322.79 L446.66,326.21 L447.45,331.83 L448.25,339.5 L449.04,349.03 L449.83,360.2 L450.62,372.71 L451.42,386.27 L452.21,400.55 L453,415.18 L453.79,429.81 L454.58,444.09 L455.38,457.65 L456.17,470.16 L456.96,481.33 L457.75,490.86 L458.55,498.53 L459.34,504.15 L460.13,507.58 L460.93,508.73" />
<path d="M459.74,347.2 L460.55,347.96 L461.35,350.37 L462.16,354.39 L462.97,359.92 L463.78,366.82 L464.58,374.94 L465.39,384.07 L466.2,393.99 L467.01,404.45 L467.81,415.21 L468.62,426 L469.43,436.54 L470.24,446.59 L471.04,455.88 L471.85,464.2 L472.66,471.33 L473.47,477.1 L474.27,481.35 L475.08,483.98 L475.89,484.93" />
<path d="M474.4,321.68 L475.19,322.83 L475.99,326.26 L476.78,331.88 L477.57,339.55 L478.36,349.08 L479.16,360.25 L479.95,372.77 L480.74,386.33 L481.53,400.6 L482.33,415.24 L483.12,429.88 L483.91,444.15 L484.7,457.72 L485.5,470.24 L486.29,481.4 L487.08,490.94 L487.87,498.61 L488.67,504.23 L489.46,507.66 L490.25,508.81" />
<path d="M478.3,321.68 L479.09,322.84 L479.88,326.26 L480.68,331.88 L481.47,339.55 L482.26,349.09 L483.06,360.25 L483.85,372.77 L484.64,386.34 L485.43,400.61 L486.23,415.25 L487.02,429.89 L487.81,444.16 L488.6,457.73 L489.39,470.25 L490.19,481.41 L490.98,490.95 L491.77,498.62 L492.56,504.24 L493.36,507.67 L494.15,508.83" />
<path d="M492.96,347.26 L493.77,348.01 L494.58,350.43 L495.39,354.45 L496.19,359.98 L497,366.88 L497.81,375 L498.62,384.13 L499.42,394.05 L500.23,404.52 L501.04,415.28 L501.85,426.07 L502.65,436.62 L503.46,446.66 L504.27,455.96 L505.08,464.28 L505.88,471.41 L506.69,477.18 L507.5,481.43 L508.31,484.07 L509.11,485.01" />
<path d="M507.63,321.73 L508.42,322.88 L509.21,326.31 L510,331.93 L510.8,339.6 L511.59,349.14 L512.38,360.31 L513.17,372.83 L513.97,386.39 L514.76,400.67 L515.55,415.31 L516.34,429.95 L517.13,444.23 L517.93,457.8 L518.72,470.32 L519.51,481.49 L520.3,491.03 L521.1,498.7 L521.89,504.32 L522.68,507.75 L523.47,508.91" />
<path d="M511.53,321.73 L512.32,322.89 L513.11,326.32 L513.9,331.94 L514.7,339.61 L515.49,349.15 L516.28,360.31 L517.07,372.83 L517.87,386.4 L518.66,400.68 L519.45,415.32 L520.24,429.96 L521.03,444.24 L521.83,457.81 L522.62,470.33 L523.41,481.5 L524.21,491.04 L525,498.71 L525.79,504.33 L526.58,507.76 L527.38,508.92" />
<path d="M526.19,347.31 L527,348.07 L527.8,350.48 L528.61,354.5 L529.42,360.03 L530.22,366.94 L531.03,375.06 L531.84,384.19 L532.65,394.12 L533.45,404.59 L534.26,415.35 L535.07,426.14 L535.88,436.69 L536.68,446.74 L537.49,456.04 L538.3,464.36 L539.11,471.5 L539.91,477.26 L540.72,481.52 L541.53,484.15 L542.34,485.1" />
<path d="M540.85,321.78 L541.64,322.93 L542.44,326.36 L543.23,331.98 L544.02,339.66 L544.81,349.2 L545.61,360.36 L546.4,372.89 L547.19,386.46 L547.98,400.74 L548.78,415.38 L549.57,430.03 L550.36,444.31 L551.15,457.88 L551.95,470.4 L552.74,481.57 L553.53,491.11 L554.32,498.79 L555.12,504.41 L555.91,507.84 L556.7,509" />
<path d="M544.75,321.78 L545.54,322.94 L546.34,326.37 L547.13,331.99 L547.92,339.66 L548.71,349.2 L549.51,360.37 L550.3,372.89 L551.09,386.46 L551.88,400.75 L552.68,415.39 L553.47,430.03 L554.26,444.32 L555.05,457.89 L555.85,470.41 L556.64,481.58 L557.43,491.12 L558.22,498.8 L559.02,504.42 L559.81,507.85 L560.6,509.01" />
<path d="M559.41,347.37 L560.22,348.12 L561.03,350.54 L561.84,354.56 L562.64,360.09 L563.45,367 L564.26,375.12 L565.07,384.26 L565.87,394.18 L566.68,404.66 L567.49,415.42 L568.29,426.21 L569.1,436.77 L569.91,446.82 L570.72,456.12 L571.52,464.45 L572.33,471.58 L573.14,477.35 L573.95,481.6 L574.75,484.24 L575.56,485.18" />
<path d="M574.07,321.83 L574.87,322.98 L575.66,326.41 L576.45,332.03 L577.24,339.71 L578.04,349.25 L578.83,360.42 L579.62,372.95 L580.41,386.52 L581.21,400.81 L582,415.45 L582.79,430.1 L583.58,444.38 L584.38,457.96 L585.17,470.49 L585.96,481.66 L586.75,491.2 L587.55,498.88 L588.34,504.5 L589.13,507.93 L589.92,509.09" />
<path d="M577.98,321.83 L578.77,322.99 L579.56,326.42 L580.35,332.04 L581.14,339.72 L581.94,349.26 L582.73,360.43 L583.52,372.96 L584.32,386.53 L585.11,400.81 L585.9,415.46 L586.69,430.11 L587.49,444.39 L588.28,457.97 L589.07,470.49 L589.86,481.67 L590.66,491.21 L591.45,498.89 L592.24,504.51 L593.03,507.94 L593.83,509.1" />
<path d="M592.64,347.42 L593.44,348.18 L594.25,350.6 L595.06,354.62 L595.87,360.15 L596.67,367.06 L597.48,375.18 L598.29,384.32 L599.1,394.25 L599.9,404.72 L600.71,415.49 L601.52,426.29 L602.33,436.84 L603.13,446.9 L603.94,456.2 L604.75,464.53 L605.56,471.66 L606.36,477.43 L607.17,481.69 L607.98,484.32 L608.79,485.27" />
<path d="M607.3,321.88 L608.09,323.03 L608.88,326.46 L609.68,332.09 L610.47,339.76 L611.26,349.31 L612.05,360.48 L612.85,373.01 L613.64,386.59 L614.43,400.87 L615.22,415.52 L616.02,430.17 L616.81,444.46 L617.6,458.04 L618.39,470.57 L619.19,481.74 L619.98,491.29 L620.77,498.97 L621.56,504.59 L622.36,508.02 L623.15,509.18" />
<path d="M611.2,321.88 L611.99,323.04 L612.79,326.47 L613.58,332.09 L614.37,339.77 L615.16,349.31 L615.96,360.49 L616.75,373.02 L617.54,386.59 L618.33,400.88 L619.12,415.53 L619.92,430.18 L620.71,444.47 L621.5,458.05 L622.3,470.58 L623.09,481.75 L623.88,491.3 L624.67,498.98 L625.47,504.6 L626.26,508.03 L627.05,509.19" />
<path d="M625.86,347.48 L626.67,348.24 L627.48,350.65 L628.28,354.68 L629.09,360.21 L629.9,367.12 L630.71,375.25 L631.51,384.38 L632.32,394.31 L633.13,404.79 L633.94,415.56 L634.74,426.36 L635.55,436.92 L636.36,446.97 L637.17,456.28 L637.97,464.61 L638.78,471.75 L639.59,477.52 L640.4,481.77 L641.2,484.41 L642.01,485.36" />
<path d="M640.52,321.93 L641.32,323.08 L642.11,326.51 L642.9,332.14 L643.69,339.82 L644.49,349.36 L645.28,360.54 L646.07,373.07 L646.87,386.65 L647.66,400.94 L648.45,415.59 L649.24,430.25 L650.03,444.54 L650.83,458.12 L651.62,470.65 L652.41,481.83 L653.21,491.37 L654,499.06 L654.79,504.68 L655.58,508.11 L656.38,509.27" />
<path d="M644.43,321.93 L645.22,323.09 L646.01,326.52 L646.8,332.14 L647.6,339.82 L648.39,349.37 L649.18,360.55 L649.97,373.08 L650.77,386.66 L651.56,400.95 L652.35,415.6 L653.14,430.25 L653.94,444.55 L654.73,458.13 L655.52,470.66 L656.31,481.84 L657.11,491.38 L657.9,499.07 L658.69,504.69 L659.48,508.13 L660.28,509.28" />
<path d="M659.09,347.54 L659.89,348.29 L660.7,350.71 L661.51,354.73 L662.32,360.27 L663.12,367.18 L663.93,375.31 L664.74,384.45 L665.55,394.38 L666.36,404.86 L667.16,415.63 L667.97,426.43 L668.78,436.99 L669.58,447.05 L670.39,456.36 L671.2,464.69 L672.01,471.83 L672.81,477.6 L673.62,481.86 L674.43,484.5 L675.24,485.44" />
<path d="M673.75,321.98 L674.54,323.13 L675.34,326.56 L676.13,332.19 L676.92,339.87 L677.71,349.42 L678.5,360.6 L679.3,373.13 L680.09,386.71 L680.88,401.01 L681.67,415.66 L682.47,430.32 L683.26,444.62 L684.05,458.2 L684.84,470.73 L685.64,481.91 L686.43,491.46 L687.22,499.14 L688.01,504.77 L688.81,508.21 L689.6,509.36" />
<path d="M677.65,321.98 L678.44,323.14 L679.24,326.57 L680.03,332.2 L680.82,339.88 L681.61,349.43 L682.41,360.6 L683.2,373.14 L683.99,386.72 L684.78,401.02 L685.58,415.67 L686.37,430.33 L687.16,444.62 L687.95,458.21 L688.75,470.74 L689.54,481.92 L690.33,491.47 L691.12,499.15 L691.91,504.78 L692.71,508.22 L693.5,509.37" />
<path d="M692.31,347.59 L693.12,348.35 L693.93,350.76 L694.74,354.79 L695.54,360.33 L696.35,367.24 L697.16,375.37 L697.96,384.51 L698.77,394.45 L699.58,404.93 L700.39,415.7 L701.19,426.51 L702,437.07 L702.81,447.13 L703.62,456.44 L704.42,464.77 L705.23,471.91 L706.04,477.68 L706.85,481.94 L707.65,484.58 L708.46,485.53" />
<path d="M706.98,322.03 L707.77,323.18 L708.56,326.62 L709.35,332.24 L710.14,339.93 L710.94,349.48 L711.73,360.66 L712.52,373.19 L713.32,386.78 L714.11,401.08 L714.9,415.73 L715.69,430.39 L716.49,444.69 L717.28,458.28 L718.07,470.82 L718.86,482 L719.66,491.55 L720.45,499.23 L721.24,504.86 L722.03,508.3 L722.83,509.45" />
<path d="M710.88,322.03 L711.67,323.19 L712.46,326.62 L713.25,332.25 L714.05,339.93 L714.84,349.48 L715.63,360.66 L716.42,373.2 L717.22,386.79 L718.01,401.08 L718.8,415.74 L719.59,430.4 L720.39,444.7 L721.18,458.29 L721.97,470.83 L722.76,482.01 L723.56,491.56 L724.35,499.24 L725.14,504.87 L725.93,508.31 L726.73,509.46" />
<path d="M725.54,347.65 L726.35,348.4 L727.15,350.82 L727.96,354.85 L728.77,360.38 L729.58,367.3 L730.38,375.43 L731.19,384.58 L732,394.51 L732.81,405 L733.61,415.77 L734.42,426.58 L735.23,437.14 L736.03,447.21 L736.84,456.52 L737.65,464.85 L738.46,471.99 L739.26,477.77 L740.07,482.03 L740.88,484.67 L741.69,485.61" />
<path d="M740.2,322.08 L740.99,323.23 L741.79,326.67 L742.58,332.29 L743.37,339.98 L744.16,349.53 L744.96,360.71 L745.75,373.25 L746.54,386.84 L747.33,401.14 L748.12,415.81 L748.92,430.47 L749.71,444.77 L750.5,458.36 L751.29,470.9 L752.09,482.08 L752.88,491.64 L753.67,499.32 L754.46,504.95 L755.26,508.39 L756.05,509.54" />
<path d="M744.1,322.08 L744.89,323.24 L745.69,326.67 L746.48,332.3 L747.27,339.99 L748.06,349.54 L748.86,360.72 L749.65,373.26 L750.44,386.85 L751.23,401.15 L752.03,415.81 L752.82,430.48 L753.61,444.78 L754.4,458.37 L755.2,470.91 L755.99,482.09 L756.78,491.65 L757.57,499.33 L758.37,504.96 L759.16,508.4 L759.95,509.55" />
<path d="M758.76,347.7 L759.57,348.46 L760.38,350.88 L761.19,354.9 L761.99,360.44 L762.8,367.36 L763.61,375.49 L764.41,384.64 L765.22,394.58 L766.03,405.07 L766.84,415.85 L767.64,426.65 L768.45,437.22 L769.26,447.28 L770.07,456.6 L770.88,464.93 L771.68,472.08 L772.49,477.85 L773.3,482.11 L774.1,484.75 L774.91,485.7" />
<path d="M773.42,322.13 L774.22,323.28 L775.01,326.72 L775.8,332.35 L776.59,340.03 L777.39,349.59 L778.18,360.77 L778.97,373.32 L779.76,386.91 L780.56,401.21 L781.35,415.88 L782.14,430.54 L782.93,444.85 L783.73,458.44 L784.52,470.98 L785.31,482.17 L786.1,491.72 L786.9,499.41 L787.69,505.04 L788.48,508.48 L789.27,509.63" />
<path d="M777.33,322.13 L778.12,323.29 L778.91,326.72 L779.7,332.35 L780.5,340.04 L781.29,349.59 L782.08,360.78 L782.87,373.32 L783.66,386.91 L784.46,401.22 L785.25,415.88 L786.04,430.55 L786.84,444.85 L787.63,458.45 L788.42,470.99 L789.21,482.18 L790,491.73 L790.8,499.42 L791.59,505.05 L792.38,508.49 L793.17,509.64" />
<path d="M791.99,347.76 L792.79,348.51 L793.6,350.93 L794.41,354.96 L795.22,360.5 L796.02,367.42 L796.83,375.56 L797.64,384.7 L798.45,394.64 L799.25,405.13 L800.06,415.92 L800.87,426.72 L801.68,437.29 L802.48,447.36 L803.29,456.68 L804.1,465.01 L804.91,472.16 L805.71,477.94 L806.52,482.2 L807.33,484.84 L808.14,485.78" />
<path d="M806.65,322.18 L807.44,323.33 L808.24,326.77 L809.03,332.4 L809.82,340.09 L810.61,349.64 L811.4,360.83 L812.2,373.38 L812.99,386.97 L813.78,401.28 L814.58,415.95 L815.37,430.61 L816.16,444.92 L816.95,458.52 L817.75,471.06 L818.54,482.25 L819.33,491.81 L820.12,499.5 L820.91,505.13 L821.71,508.57 L822.5,509.73" />
<path d="M810.55,322.18 L811.34,323.34 L812.14,326.77 L812.93,332.41 L813.72,340.09 L814.51,349.65 L815.31,360.84 L816.1,373.38 L816.89,386.98 L817.68,401.29 L818.48,415.95 L819.27,430.62 L820.06,444.93 L820.85,458.53 L821.65,471.07 L822.44,482.26 L823.23,491.82 L824.02,499.51 L824.82,505.14 L825.61,508.58 L826.4,509.74" />
<path d="M825.21,347.81 L826.02,348.57 L826.83,350.99 L827.63,355.02 L828.44,360.56 L829.25,367.48 L830.06,375.62 L830.87,384.77 L831.67,394.71 L832.48,405.2 L833.29,415.99 L834.09,426.8 L834.9,437.37 L835.71,447.44 L836.52,456.76 L837.32,465.1 L838.13,472.24 L838.94,478.02 L839.75,482.28 L840.55,484.92 L841.36,485.87" />
<path d="M839.88,322.23 L840.67,323.38 L841.46,326.82 L842.25,332.45 L843.04,340.14 L843.84,349.7 L844.63,360.89 L845.42,373.44 L846.21,387.03 L847.01,401.35 L847.8,416.02 L848.59,430.69 L849.38,445 L850.18,458.6 L850.97,471.15 L851.76,482.34 L852.55,491.9 L853.35,499.59 L854.14,505.22 L854.93,508.66 L855.72,509.82" />
<path d="M843.78,322.23 L844.57,323.39 L845.36,326.83 L846.15,332.46 L846.95,340.15 L847.74,349.71 L848.53,360.9 L849.32,373.45 L850.12,387.04 L850.91,401.35 L851.7,416.03 L852.49,430.7 L853.29,445.01 L854.08,458.61 L854.87,471.16 L855.66,482.35 L856.46,491.91 L857.25,499.6 L858.04,505.23 L858.83,508.67 L859.62,509.83" />
<path d="M858.44,347.87 L859.25,348.63 L860.05,351.05 L860.86,355.08 L861.67,360.62 L862.47,367.54 L863.28,375.68 L864.09,384.83 L864.9,394.78 L865.7,405.27 L866.51,416.06 L867.32,426.87 L868.13,437.44 L868.93,447.52 L869.74,456.84 L870.55,465.18 L871.36,472.33 L872.16,478.11 L872.97,482.37 L873.78,485.01 L874.59,485.96" />
<path d="M873.1,322.28 L873.89,323.43 L874.69,326.87 L875.48,332.5 L876.27,340.2 L877.06,349.76 L877.86,360.95 L878.65,373.5 L879.44,387.1 L880.23,401.41 L881.03,416.09 L881.82,430.76 L882.61,445.08 L883.4,458.68 L884.2,471.23 L884.99,482.42 L885.78,491.98 L886.57,499.68 L887.37,505.31 L888.16,508.75 L888.95,509.91" />
<path d="M877,322.28 L877.79,323.44 L878.59,326.88 L879.38,332.51 L880.17,340.2 L880.96,349.76 L881.76,360.96 L882.55,373.51 L883.34,387.11 L884.13,401.42 L884.93,416.1 L885.72,430.77 L886.51,445.09 L887.3,458.69 L888.1,471.24 L888.89,482.43 L889.68,491.99 L890.47,499.69 L891.27,505.32 L892.06,508.76 L892.85,509.92" />
<path d="M891.66,347.92 L892.47,348.68 L893.28,351.1 L894.09,355.13 L894.89,360.68 L895.7,367.6 L896.51,375.74 L897.32,384.89 L898.12,394.84 L898.93,405.34 L899.74,416.13 L900,419.64" />
<path d="M127.69,346.65 L128.45,347.4 L129.22,349.81 L129.99,353.82 L130.76,359.33 L131.52,366.22 L132.29,374.32 L133.06,383.43 L133.83,393.33 L134.59,403.77 L135.36,414.5 L136.13,425.27 L136.9,435.79 L137.66,445.81 L138.43,455.09 L139.2,463.39 L139.97,470.5 L140.73,476.25 L141.5,480.5 L142.27,483.12 L143.04,484.07" />
<path d="M124.4,342 L126,380 L127.9,415.5 L129.8,455 L132.2,502" />
<path d="M1057,283.0 L1101.0,283.0 A32.0,32.0 0 0 1 1133.0,315.0 L1133.0,403.0"/>
<path d="M1057,549.0 L1101.0,549.0 A32.0,32.0 0 0 0 1133.0,517.0 L1133.0,429.0"/>
<path d="M1100,283 L1100,403" />
<path d="M1100,429 L1100,549" />
<path d="M1133,403 L1093,403 L1093,429 L1133,429" />
<circle cx="1749.5" cy="415.5" r="133"/>
<path d="M1650.28,403 A100,100 0 0 1 1848.72,403"/>
<path d="M1650.42,429 A100,100 0 0 0 1848.58,429"/>
<path d="M1749.5,229.5 L1741.69,216.65 L1734.91,230.07 L1726.11,217.88 L1720.4,231.79 L1710.68,220.32 L1706.08,234.64 L1695.48,223.97 L1692.02,238.6 L1680.62,228.8 L1678.32,243.66 L1666.19,234.78 L1665.06,249.77 L1652.26,241.87 L1652.32,256.91 L1638.94,250.04 L1640.17,265.02 L1626.3,259.22 L1628.7,274.06 L1614.42,269.37 L1617.98,283.98 L1603.37,280.42 L1608.06,294.7 L1593.22,292.3 L1599.02,306.17 L1584.04,304.94 L1590.91,318.32 L1575.87,318.26 L1583.77,331.06 L1568.78,332.19 L1577.66,344.32 L1562.8,346.62 L1572.6,358.02 L1557.97,361.48 L1568.64,372.08 L1554.32,376.68 L1565.79,386.4 L1551.88,392.11 L1564.07,400.91 L1550.65,407.69 L1563.5,415.5 L1550.65,423.31 L1564.07,430.09 L1551.88,438.89 L1565.79,444.6 L1554.32,454.32 L1568.64,458.92 L1557.97,469.52 L1572.6,472.98 L1562.8,484.38 L1577.66,486.68 L1568.78,498.81 L1583.77,499.94 L1575.87,512.74 L1590.91,512.68 L1584.04,526.06 L1599.02,524.83 L1593.22,538.7 L1608.06,536.3 L1603.37,550.58 L1617.98,547.02 L1614.42,561.63 L1628.7,556.94 L1626.3,571.78 L1640.17,565.98 L1638.94,580.96 L1652.32,574.09 L1652.26,589.13 L1665.06,581.23 L1666.19,596.22 L1678.32,587.34 L1680.62,602.2 L1692.02,592.4 L1695.48,607.03 L1706.08,596.36 L1710.68,610.68 L1720.4,599.21 L1726.11,613.12 L1734.91,600.93 L1741.69,614.35 L1749.5,601.5 L1757.31,614.35 L1764.09,600.93 L1772.89,613.12 L1778.6,599.21 L1788.32,610.68 L1792.92,596.36 L1803.52,607.03 L1806.98,592.4 L1818.38,602.2 L1820.68,587.34 L1832.81,596.22 L1833.94,581.23 L1846.74,589.13 L1846.68,574.09 L1860.06,580.96 L1858.83,565.98 L1872.7,571.78 L1870.3,556.94 L1884.58,561.63 L1881.02,547.02 L1895.63,550.58 L1890.94,536.3 L1905.78,538.7 L1899.98,524.83 L1914.96,526.06 L1908.09,512.68 L1923.13,512.74 L1915.23,499.94 L1930.22,498.81 L1921.34,486.68 L1936.2,484.38 L1926.4,472.98 L1941.03,469.52 L1930.36,458.92 L1944.68,454.32 L1933.21,444.6 L1947.12,438.89 L1934.93,430.09 L1948.35,423.31 L1935.5,415.5 L1948.35,407.69 L1934.93,400.91 L1947.12,392.11 L1933.21,386.4 L1944.68,376.68 L1930.36,372.08 L1941.03,361.48 L1926.4,358.02 L1936.2,346.62 L1921.34,344.32 L1930.22,332.19 L1915.23,331.06 L1923.13,318.26 L1908.09,318.32 L1914.96,304.94 L1899.98,306.17 L1905.78,292.3 L1890.94,294.7 L1895.63,280.42 L1881.02,283.98 L1884.58,269.37 L1870.3,274.06 L1872.7,259.22 L1858.83,265.02 L1860.06,250.04 L1846.68,256.91 L1846.74,241.87 L1833.94,249.77 L1832.81,234.78 L1820.68,243.66 L1818.38,228.8 L1806.98,238.6 L1803.52,223.97 L1792.92,234.64 L1788.32,220.32 L1778.6,231.79 L1772.89,217.88 L1764.09,230.07 L1757.31,216.65 Z" stroke-linejoin="miter"/>
<path d="M1617.14,403 L1881.86,403" />
<path d="M1617.14,429 L1881.86,429" />
<path d="M900,121 L900,200" />
<path d="M1056,121 L1056,200" />
<path d="M900,136.5 L936,136.5" />
<path d="M1019.5,136.5 L1056,136.5" />
<path d="M900,136.5 L934,141.7 L934,131.3 Z" fill="#000"/>
<path d="M1056.5,136.5 L1022.5,131.3 L1022.5,141.7 Z" fill="#000"/>
<path d="M103,467 L103,722.4" />
<path d="M900,630 L900,722" />
<path d="M103,707 L481.6,707" />
<path d="M522,707 L900,707" />
<path d="M103,707 L136.5,712.2 L136.5,701.8 Z" fill="#000"/>
<path d="M900,707 L866.5,701.8 L866.5,712.2 Z" fill="#000"/>
<path d="M1115,283 L1342,283" />
<path d="M1115.5,549 L1342,549" />
<path d="M1326,283 L1326,399.6" />
<path d="M1326,461 L1326,549" />
<path d="M1326,283 L1320.8,316.5 L1331.2,316.5 Z" fill="#000"/>
<path d="M1326,549 L1331.2,515 L1320.8,515 Z" fill="#000"/>
<path d="M1148,403 L1201,403" />
<path d="M1148,429 L1201,429" />
<path d="M1220.5,336 L1187,336 L1187,402" />
<path d="M1187,402 L1192.2,368.5 L1181.8,368.5 Z" fill="#000"/>
<path d="M1187,430 L1187,495.5" />
<path d="M1187,430 L1181.8,462.5 L1192.2,462.5 Z" fill="#000"/>
<path d="M1601.31,549.06 L1976.4,211 L2010,211" />
<path d="M1897.69,281.94 L1869.33,300.5 L1876.29,308.23 Z" fill="#000"/>
<path d="M1601.31,549.06 L1629.67,530.5 L1622.71,522.77 Z" fill="#000"/>
</g>
<g stroke-width="1"><path d="M55,415.5 L129.5,415.5" />
<path d="M144,415.5 L161,415.5" />
<path d="M175.2,415.5 L250.8,415.5" />
<path d="M265.7,415.5 L282.8,415.5" />
<path d="M295.5,415.5 L372.8,415.5" />
<path d="M386,415.5 L402,415.5" />
<path d="M417,415.5 L493.7,415.5" />
<path d="M508.7,415.5 L524.7,415.5" />
<path d="M539.2,415.5 L616.3,415.5" />
<path d="M630.1,415.5 L646.1,415.5" />
<path d="M659.9,415.5 L736.6,415.5" />
<path d="M750.4,415.5 L766.4,415.5" />
<path d="M780.3,415.5 L858.6,415.5" />
<path d="M872.9,415.5 L888.9,415.5" />
<path d="M901,415.5 L1101,415.5" />
<path d="M1116,415.5 L1132,415.5" />
<path d="M1146,415.5 L1221,415.5" />
<path d="M1530.4,415.5 L1606,415.5" />
<path d="M1619.7,415.5 L1635.3,415.5" />
<path d="M1650.5,415.5 L1726.7,415.5" />
<path d="M1740.8,415.5 L1757.2,415.5" />
<path d="M1772.4,415.5 L1848.5,415.5" />
<path d="M1862.7,415.5 L1879,415.5" />
<path d="M1893.1,415.5 L1968.6,415.5" />
<path d="M1749.5,196.4 L1749.5,271.5" />
<path d="M1749.5,284 L1749.5,300" />
<path d="M1749.5,316.5 L1749.5,392.5" />
<path d="M1749.5,407 L1749.5,423" />
<path d="M1749.5,437.5 L1749.5,513.5" />
<path d="M1749.5,529 L1749.5,545" />
<path d="M1749.5,559.3 L1749.5,634.4" />
<circle cx="1749.5" cy="415.5" r="199.5"/></g>
<path d="M899,216h158v6h-158zM899,223h158v2h-158zM899,228h158v2h-158zM899,234h158v2h-158zM899,241h158v2h-158zM899,249h158v2h-158zM899,258h158v3h-158zM899,268h158v3h-158zM899,279h158v3h-158zM899,291h158v3h-158zM899,304h158v2h-158zM899,317h158v3h-158zM899,330h158v4h-158zM899,344h158v4h-158zM899,357h158v2h-158zM899,360h158v3h-158zM899,371h158v2h-158zM899,376h158v2h-158zM899,386h158v2h-158zM899,391h158v3h-158zM899,400h158v2h-158zM899,407h158v2h-158zM899,415h158v2h-158zM899,422h158v3h-158zM899,429h158v2h-158zM899,438h158v3h-158zM899,444h158v2h-158zM899,453h158v3h-158zM899,458h158v2h-158zM899,468h158v3h-158zM899,472h158v2h-158zM899,483h158v5h-158zM899,498h158v3h-158zM899,512h158v2h-158zM899,525h158v3h-158zM899,538h158v2h-158zM899,550h158v2h-158zM899,561h158v2h-158zM899,571h158v2h-158zM899,580h158v3h-158zM899,588h158v3h-158zM899,595h158v3h-158zM899,601h158v3h-158zM899,606h158v3h-158zM899,610h158v6h-158zM899,216h2v400h-2zM1055,216h2v400h-2z" fill="#000" stroke="none"/>
<g transform="translate(949.8,119) scale(1,1.0)"><path d="M9.3,0 L11.2,0 L11.2,22.2 L14.2,22.2 L14.2,25.2 L11.2,25.2 L11.2,29.8 L12.6,31.3 L14.2,31.3 L14.2,34.1 L5.1,34.1 L5.1,31.3 L7.3,31.3 L7.3,25.2 L0,25.2 L0,22.2 Z" fill="#000" fill-rule="evenodd" stroke="none"/><path d="M7.3,14.4 L3.9,22.2 L7.3,22.2 Z" fill="#fff" fill-rule="evenodd" stroke="none"/></g>
<g transform="translate(964.9,119) scale(1,1.015)"><path d="M0.0,30.6 A2.6,3.6 0 1 0 5.2,30.6 A2.6,3.6 0 1 0 0.0,30.6 Z" fill="#000" fill-rule="evenodd" stroke="none"/></g>
<g transform="translate(978.9,119) scale(1,1.0)"><path d="M1.25,1.1 L13.2,1.1 L13.2,4.8 C11,12 8.6,20 8.1,35.1 L4.4,35.1 L3.2,33 C3.2,22 6.5,12 9.2,5.1 L3.3,5.1 C3.3,8 3.2,10.6 1.6,11.1 C0.4,11.1 0,10 0,9 C0,8 0.6,7.6 1.25,7.3 Z" fill="#000" fill-rule="evenodd" stroke="none"/></g>
<g transform="translate(992.9,119) scale(1,1)"><path d="M0.0,17.5 A6.5,17.5 0 1 0 13.0,17.5 A6.5,17.5 0 1 0 0.0,17.5 Z M3.9,17.5 A2.6,13.7 0 1 0 9.1,17.5 A2.6,13.7 0 1 0 3.9,17.5 Z" fill="#000" fill-rule="evenodd" stroke="none"/></g>
<g transform="translate(1233,318.7) scale(1.07,0.985)"><path d="M0.0,17.5 A6.5,17.5 0 1 0 13.0,17.5 A6.5,17.5 0 1 0 0.0,17.5 Z M3.9,17.5 A2.6,13.7 0 1 0 9.1,17.5 A2.6,13.7 0 1 0 3.9,17.5 Z" fill="#000" fill-rule="evenodd" stroke="none"/></g>
<g transform="translate(1248,319.3) scale(1,0.985)"><path d="M0.0,30.6 A2.6,3.6 0 1 0 5.2,30.6 A2.6,3.6 0 1 0 0.0,30.6 Z" fill="#000" fill-rule="evenodd" stroke="none"/></g>
<g transform="translate(1261.8,318.7) scale(1.015,0.985)"><path d="M1,9 A6,9 0 1 0 13,9 A6,9 0 1 0 1,9 Z" fill="#000" fill-rule="evenodd" stroke="none"/><path d="M0.0,25.3 A6.5,9.7 0 1 0 13.0,25.3 A6.5,9.7 0 1 0 0.0,25.3 Z" fill="#000" fill-rule="evenodd" stroke="none"/><path d="M4.1,8.8 A2.9,5.2 0 1 0 9.9,8.8 A2.9,5.2 0 1 0 4.1,8.8 Z" fill="#fff" fill-rule="evenodd" stroke="none"/><path d="M3.9,25.6 A2.9,5.8 0 1 0 9.7,25.6 A2.9,5.8 0 1 0 3.9,25.6 Z" fill="#fff" fill-rule="evenodd" stroke="none"/></g>
<g transform="translate(1276,318.7) scale(1.0,0.985)"><path d="M0.0,17.5 A6.5,17.5 0 1 0 13.0,17.5 A6.5,17.5 0 1 0 0.0,17.5 Z M3.9,17.5 A2.6,13.7 0 1 0 9.1,17.5 A2.6,13.7 0 1 0 3.9,17.5 Z" fill="#000" fill-rule="evenodd" stroke="none"/></g>
<g transform="translate(1291,418.8) scale(0.98,1)"><path d="M0.09999999999999964,11.2 A6.9,10.8 0 1 0 13.9,11.2 A6.9,10.8 0 1 0 0.09999999999999964,11.2 Z M3.4,11.2 A3.6,7.4 0 1 0 10.6,11.2 A3.6,7.4 0 1 0 3.4,11.2 Z" fill="#000" fill-rule="evenodd" stroke="none"/><path d="M2.4,22.3 L14.4,2.2 L14.4,0 L11.8,0 L11.8,1.6 L0,21.2 L0,22.4 Z" fill="#000" fill-rule="evenodd" stroke="none"/><path d="M0,19 L3,19 L3,22.4 L0,22.4 Z" fill="#000" fill-rule="evenodd" stroke="none"/></g>
<g transform="translate(1305,413) scale(1,1)"><path d="M1,9 A6,9 0 1 0 13,9 A6,9 0 1 0 1,9 Z" fill="#000" fill-rule="evenodd" stroke="none"/><path d="M0.0,25.3 A6.5,9.7 0 1 0 13.0,25.3 A6.5,9.7 0 1 0 0.0,25.3 Z" fill="#000" fill-rule="evenodd" stroke="none"/><path d="M4.1,8.8 A2.9,5.2 0 1 0 9.9,8.8 A2.9,5.2 0 1 0 4.1,8.8 Z" fill="#fff" fill-rule="evenodd" stroke="none"/><path d="M3.9,25.6 A2.9,5.8 0 1 0 9.7,25.6 A2.9,5.8 0 1 0 3.9,25.6 Z" fill="#fff" fill-rule="evenodd" stroke="none"/></g>
<g transform="translate(1319.8,413) scale(1,1.02)"><path d="M0.0,30.6 A2.6,3.6 0 1 0 5.2,30.6 A2.6,3.6 0 1 0 0.0,30.6 Z" fill="#000" fill-rule="evenodd" stroke="none"/></g>
<g transform="translate(1333.9,413) scale(1,1)"><path d="M0.0,17.5 A6.5,17.5 0 1 0 13.0,17.5 A6.5,17.5 0 1 0 0.0,17.5 Z M3.9,17.5 A2.6,13.7 0 1 0 9.1,17.5 A2.6,13.7 0 1 0 3.9,17.5 Z" fill="#000" fill-rule="evenodd" stroke="none"/></g>
<g transform="translate(1347.9,413) scale(1,1)"><path d="M0.0,17.5 A6.5,17.5 0 1 0 13.0,17.5 A6.5,17.5 0 1 0 0.0,17.5 Z M3.9,17.5 A2.6,13.7 0 1 0 9.1,17.5 A2.6,13.7 0 1 0 3.9,17.5 Z" fill="#000" fill-rule="evenodd" stroke="none"/></g>
<g transform="translate(2022.7,198.9) scale(1.06,1.03)"><path d="M0.09999999999999964,11.2 A6.9,10.8 0 1 0 13.9,11.2 A6.9,10.8 0 1 0 0.09999999999999964,11.2 Z M3.4,11.2 A3.6,7.4 0 1 0 10.6,11.2 A3.6,7.4 0 1 0 3.4,11.2 Z" fill="#000" fill-rule="evenodd" stroke="none"/><path d="M2.4,22.3 L14.4,2.2 L14.4,0 L11.8,0 L11.8,1.6 L0,21.2 L0,22.4 Z" fill="#000" fill-rule="evenodd" stroke="none"/><path d="M0,19 L3,19 L3,22.4 L0,22.4 Z" fill="#000" fill-rule="evenodd" stroke="none"/></g>
<g transform="translate(2039.7,193.8) scale(1,1)"><path d="M3.4,0 L7.1,0 L7.1,30.3 L10.2,31.3 L10.2,34.1 L0,34.1 L0,31.3 L3.4,31.3 L3.4,6.3 L0,6.3 L0,3.1 L3.4,3.1 Z" fill="#000" fill-rule="evenodd" stroke="none"/></g>
<g transform="translate(2052,193.8) scale(1,1)"><path d="M0.9,13.1 L4.8,13.1 L4.8,7.1 C5,4.5 5.6,2.9 6.6,2.9 C7.8,2.9 8.5,4.2 8.6,6 L8.8,13 C8.6,16 4,24 0,31 L0,34.1 L13.1,34.1 L13.1,24.2 L10.5,24.2 L9.7,29.2 L4.8,29.2 C8,23 13,17.5 13.1,13 L13.1,8.2 C13,3.5 10.5,0 7.4,0 C4.2,0 1.2,3 1,7 Z" fill="#000" fill-rule="evenodd" stroke="none"/></g>
<g transform="translate(2067,193.8) scale(1,1)"><path d="M0.0,30.6 A2.6,3.6 0 1 0 5.2,30.6 A2.6,3.6 0 1 0 0.0,30.6 Z" fill="#000" fill-rule="evenodd" stroke="none"/></g>
<g transform="translate(2080.9,193.8) scale(1,0.98)"><path d="M0.0,17.5 A6.5,17.5 0 1 0 13.0,17.5 A6.5,17.5 0 1 0 0.0,17.5 Z M3.9,17.5 A2.6,13.7 0 1 0 9.1,17.5 A2.6,13.7 0 1 0 3.9,17.5 Z" fill="#000" fill-rule="evenodd" stroke="none"/></g>
<g transform="translate(2094.9,193.8) scale(1,0.98)"><path d="M0.0,17.5 A6.5,17.5 0 1 0 13.0,17.5 A6.5,17.5 0 1 0 0.0,17.5 Z M3.9,17.5 A2.6,13.7 0 1 0 9.1,17.5 A2.6,13.7 0 1 0 3.9,17.5 Z" fill="#000" fill-rule="evenodd" stroke="none"/></g>
<g transform="translate(493.9,690) scale(1,1)"><path d="M0,0 L8.2,0 L8.2,3 L6.1,3 L6.1,30.1 L9.5,30.1 C11,29 12,27 12.3,24 L15.2,24 L15.2,28.6 L14.1,28.6 L14.1,32.9 L0,32.9 L0,31 L2.1,29.8 L2.1,3 L0,3 Z" fill="#000" fill-rule="evenodd" stroke="none"/></g>
</svg>
</body></html>
